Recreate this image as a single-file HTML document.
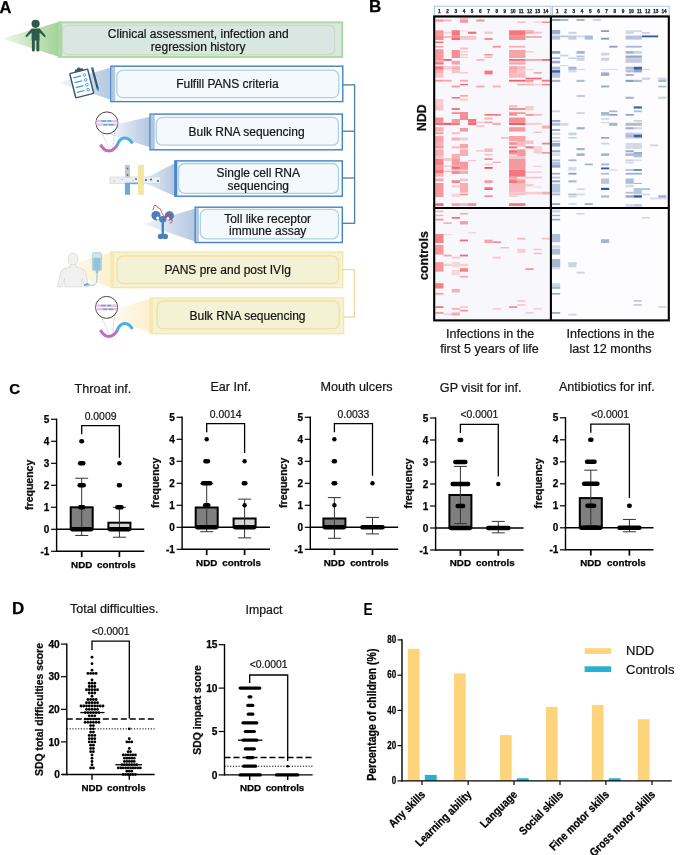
<!DOCTYPE html>
<html><head><meta charset="utf-8"><style>
html,body{margin:0;padding:0;background:#fff;}
svg{display:block;will-change:transform;}
text{font-family:"Liberation Sans",sans-serif;}
text.r{stroke:#222;stroke-width:0.22px;}
text.b{stroke:#000;stroke-width:0.25px;}
</style></head><body>
<svg width="685" height="855" viewBox="0 0 685 855" font-family="Liberation Sans, sans-serif">
<rect width="685" height="855" fill="#fff"/>
<text x="-0.40" y="13.10" font-size="16.5" text-anchor="start" font-weight="bold" class="b" fill="#000" >A</text><defs>
<linearGradient id="gG" x1="0" x2="1" y1="0" y2="0"><stop offset="0" stop-color="#eef7e8"/><stop offset="1" stop-color="#a3d397"/></linearGradient>
<linearGradient id="gB" x1="0" x2="1" y1="0" y2="0"><stop offset="0" stop-color="#f3f6fb"/><stop offset="1" stop-color="#b3c7e1"/></linearGradient>
<linearGradient id="gY" x1="0" x2="1" y1="0" y2="0"><stop offset="0" stop-color="#fffbf2"/><stop offset="1" stop-color="#fdf0cf"/></linearGradient>
</defs><polygon points="2.3,38.4 58.6,22 58.6,56.8" fill="url(#gG)"/><polygon points="59.4,82.8 111,67.4 111,99.8" fill="url(#gB)"/><polygon points="117.5,124 150,116.8 150,147.3 110,134.5" fill="url(#gB)"/><polygon points="140,181 174.8,163.3 174.8,196.1" fill="url(#gB)"/><polygon points="143,223.7 195.6,208.5 195.6,241.7" fill="url(#gB)"/><polygon points="57.1,269.2 111.3,252.1 111.3,287.7" fill="url(#gY)"/><polygon points="117.2,308.5 150.4,298.4 150.4,332.6 110,319" fill="url(#gY)"/><rect x="58.90" y="22.30" width="283.40" height="34.70" rx="0" fill="#d8e7e1" stroke="#a9d79f" stroke-width="1.8" /><rect x="59.60" y="23.10" width="2.60" height="33.20" rx="0" fill="#a9d79f" stroke="none" stroke-width="1" /><rect x="62.50" y="25.30" width="272.20" height="29.30" rx="6" fill="#d8e7e1" stroke="#c3ddc0" stroke-width="1" /><text x="198.20" y="38.10" font-size="12" text-anchor="middle" class="r" fill="#111" >Clinical assessment, infection and</text><text x="198.20" y="50.70" font-size="12" text-anchor="middle" class="r" fill="#111" >regression history</text><rect x="110.90" y="66.20" width="231.90" height="35.40" rx="0" fill="#ffffff" stroke="#3f82c6" stroke-width="1.4" /><rect x="111.60" y="66.90" width="3.60" height="34.00" rx="0" fill="#b2c6e0" stroke="none" stroke-width="1" /><rect x="116.80" y="70.20" width="222.00" height="27.40" rx="6" fill="#f4f9fd" stroke="#abd2da" stroke-width="1.3" /><text x="227.40" y="88.40" font-size="12" text-anchor="middle" class="r" fill="#111" >Fulfill PANS criteria</text><rect x="150.10" y="114.10" width="192.20" height="35.70" rx="0" fill="#ffffff" stroke="#3f82c6" stroke-width="1.4" /><rect x="150.80" y="114.80" width="4.00" height="34.30" rx="0" fill="#b2c6e0" stroke="none" stroke-width="1" /><rect x="156.30" y="117.40" width="182.20" height="27.80" rx="6" fill="#f4f9fd" stroke="#abd2da" stroke-width="1.3" /><text x="246.60" y="136.00" font-size="12" text-anchor="middle" class="r" fill="#111" >Bulk RNA sequencing</text><rect x="174.90" y="160.90" width="167.40" height="35.30" rx="0" fill="#ffffff" stroke="#3f82c6" stroke-width="1.4" /><rect x="174.70" y="160.90" width="2.60" height="35.30" rx="0" fill="#4a86c8" stroke="none" stroke-width="1" /><rect x="177.30" y="161.60" width="1.20" height="33.90" rx="0" fill="#c9d8ec" stroke="none" stroke-width="1" /><rect x="178.60" y="163.50" width="159.90" height="29.80" rx="6" fill="#f4f9fd" stroke="#abd2da" stroke-width="1.3" /><text x="258.30" y="176.50" font-size="12" text-anchor="middle" class="r" fill="#111" >Single cell RNA</text><text x="258.30" y="189.70" font-size="12" text-anchor="middle" class="r" fill="#111" >sequencing</text><rect x="195.20" y="207.20" width="147.10" height="35.30" rx="0" fill="#ffffff" stroke="#3f82c6" stroke-width="1.4" /><rect x="195.90" y="207.90" width="3.00" height="33.90" rx="0" fill="#b2c6e0" stroke="none" stroke-width="1" /><rect x="200.30" y="209.40" width="138.20" height="29.40" rx="6" fill="#f4f9fd" stroke="#abd2da" stroke-width="1.3" /><text x="267.70" y="222.50" font-size="12" text-anchor="middle" class="r" fill="#111" >Toll like receptor</text><text x="267.70" y="235.10" font-size="12" text-anchor="middle" class="r" fill="#111" >immune assay</text><line x1="342.60" y1="84.90" x2="354.60" y2="84.90" stroke="#4d8097" stroke-width="1.3" /><line x1="342.60" y1="131.20" x2="354.60" y2="131.20" stroke="#4d8097" stroke-width="1.3" /><line x1="342.60" y1="178.00" x2="354.60" y2="178.00" stroke="#4d8097" stroke-width="1.3" /><line x1="342.60" y1="223.30" x2="354.60" y2="223.30" stroke="#4d8097" stroke-width="1.3" /><line x1="354.60" y1="84.30" x2="354.60" y2="223.90" stroke="#4d8097" stroke-width="1.3" /><rect x="111.20" y="252.00" width="231.50" height="35.60" rx="0" fill="#f5f3d7" stroke="#f5e6ab" stroke-width="1.4" /><rect x="111.90" y="252.70" width="2.20" height="34.20" rx="0" fill="#f7e8b2" stroke="none" stroke-width="1" /><rect x="117.10" y="256.10" width="221.50" height="27.50" rx="6" fill="#f4f2d6" stroke="#f2e1a3" stroke-width="1.5" /><text x="227.80" y="274.00" font-size="12" text-anchor="middle" class="r" fill="#111" >PANS pre and post IVIg</text><rect x="150.20" y="298.00" width="193.40" height="35.70" rx="0" fill="#f5f3d7" stroke="#f5e6ab" stroke-width="1.4" /><rect x="150.90" y="298.70" width="2.20" height="34.30" rx="0" fill="#f7e8b2" stroke="none" stroke-width="1" /><rect x="157.00" y="301.10" width="182.20" height="27.70" rx="6" fill="#f4f2d6" stroke="#f2e1a3" stroke-width="1.5" /><text x="247.50" y="320.10" font-size="12" text-anchor="middle" class="r" fill="#111" >Bulk RNA sequencing</text><line x1="342.70" y1="269.60" x2="354.40" y2="269.60" stroke="#e9d9a6" stroke-width="1.3" /><line x1="343.60" y1="317.00" x2="354.40" y2="317.00" stroke="#e9d9a6" stroke-width="1.3" /><line x1="354.40" y1="269.00" x2="354.40" y2="317.60" stroke="#e9d9a6" stroke-width="1.3" /><g fill="#2e5a4b"><circle cx="35.6" cy="23.8" r="4.1"/><path d="M31.6,28.6 L39.6,28.6 L45.9,36.0 L44.6,37.2 L39.6,32.5 L39.6,40.5 L31.6,40.5 L31.6,32.5 L26.6,37.2 L25.3,36.0 Z"/><rect x="31.9" y="39.5" width="2.9" height="12" rx="1.3"/><rect x="36.4" y="39.5" width="2.9" height="12" rx="1.3"/></g><g transform="rotate(-14 81.7 83.6)"><rect x="72.5" y="71" width="18.5" height="25" rx="1" fill="#fff" stroke="#3b5573" stroke-width="1.5"/><path d="M77.5,71.2 L78.5,68.6 L80.5,68.6 L81.5,67.2 L83,67.2 L84,68.6 L86,68.6 L87,71.2 Z" fill="#3b5573"/><g stroke="#3a9ad6" stroke-width="1.2"><line x1="75" y1="76" x2="83" y2="76"/><line x1="75" y1="81" x2="83" y2="81"/><line x1="75" y1="86" x2="83" y2="86"/><line x1="75" y1="91" x2="83" y2="91"/></g><g fill="none" stroke="#3a9ad6" stroke-width="0.9"><circle cx="86.5" cy="76" r="1.3"/><circle cx="86.5" cy="81" r="1.3"/><circle cx="86.5" cy="86" r="1.3"/><circle cx="86.5" cy="91" r="1.3"/></g></g><line x1="92.4" y1="68.6" x2="97.8" y2="89" stroke="#3b5573" stroke-width="2.2" stroke-linecap="round"/><path d="M96.6,88.5 L99.2,88 L98.6,91.8 Z" fill="#3a9ad6"/><circle cx="92.3" cy="68.2" r="1.2" fill="#3a9ad6"/><g><circle cx="106.9" cy="122.9" r="11" fill="#fff" stroke="#444" stroke-width="1"/><rect x="96.4" y="120.0" width="21" height="5.8" fill="#e9c0e4"/><line x1="96.4" y1="122.9" x2="117.4" y2="122.9" stroke="#fff" stroke-width="1.1"/><g stroke-width="1.5" stroke="#4ab0e0"><line x1="101.4" y1="121.0" x2="106.10000000000001" y2="121.0"/><line x1="107.5" y1="121.0" x2="111.5" y2="121.0"/><line x1="103.4" y1="124.80000000000001" x2="107.5" y2="124.80000000000001"/><line x1="108.9" y1="124.80000000000001" x2="113.5" y2="124.80000000000001"/></g><g stroke="#999" stroke-width="0.6" stroke-dasharray="1,1"><line x1="101.9" y1="132.9" x2="110.5" y2="151.5"/><line x1="114.9" y1="130.9" x2="112.5" y2="149.5"/></g><path d="M100.5,144.5 C104.5,152.5 112.5,153.5 117.5,144.5" fill="none" stroke="#c06fc0" stroke-width="3" stroke-linecap="butt"/><path d="M117.0,145.3 C120.5,136.5 127.5,135.5 132.5,143.5" fill="none" stroke="#45b2e0" stroke-width="3"/></g><g><circle cx="106.6" cy="307.4" r="11" fill="#fff" stroke="#444" stroke-width="1"/><rect x="96.1" y="304.5" width="21" height="5.8" fill="#e9c0e4"/><line x1="96.1" y1="307.4" x2="117.1" y2="307.4" stroke="#fff" stroke-width="1.1"/><g stroke-width="1.5" stroke="#4ab0e0"><line x1="101.1" y1="305.5" x2="105.8" y2="305.5"/><line x1="107.19999999999999" y1="305.5" x2="111.19999999999999" y2="305.5"/><line x1="103.1" y1="309.29999999999995" x2="107.19999999999999" y2="309.29999999999995"/><line x1="108.6" y1="309.29999999999995" x2="113.19999999999999" y2="309.29999999999995"/></g><g stroke="#999" stroke-width="0.6" stroke-dasharray="1,1"><line x1="101.6" y1="317.4" x2="110.5" y2="337.0"/><line x1="114.6" y1="315.4" x2="112.5" y2="335.0"/></g><path d="M100.5,330.0 C104.5,338.0 112.5,339.0 117.5,330.0" fill="none" stroke="#c06fc0" stroke-width="3" stroke-linecap="butt"/><path d="M117.0,330.8 C120.5,322.0 127.5,321.0 132.5,329.0" fill="none" stroke="#45b2e0" stroke-width="3"/></g><g><rect x="109.9" y="177" width="50.4" height="6.5" fill="#eceef2" stroke="#cfd2d8" stroke-width="0.6"/><rect x="124.9" y="164.9" width="5.1" height="12.5" fill="#c7c9cc"/><rect x="124.9" y="183" width="5.1" height="11.8" fill="#6aa8e0"/><rect x="125" y="182.6" width="18" height="1.6" fill="#6aa8e0"/><rect x="138" y="164.9" width="5.9" height="29.9" fill="#f1e6a2"/><g fill="#3c6cb8"><circle cx="127.5" cy="168.5" r="0.9"/><circle cx="127.5" cy="175" r="0.9"/><circle cx="136" cy="179" r="0.9"/><circle cx="146" cy="180" r="1.1"/><circle cx="151" cy="179.5" r="1.1"/><circle cx="158" cy="181" r="1.1"/></g><g fill="#5cc060"><circle cx="114" cy="181" r="0.6"/><circle cx="122" cy="179.5" r="0.6"/><circle cx="133" cy="180.5" r="0.6"/></g></g><g fill="#4a7fc0"><path fill-rule="evenodd" d="M156,211 A4.6,4.8 0 1 0 159.6,219.6 L158.6,217.2 A1.7,1.7 0 1 1 156.4,217 Z"/><path fill-rule="evenodd" d="M169.4,211 A4.6,4.8 0 1 1 165.8,219.6 L166.8,217.2 A1.7,1.7 0 1 0 169,217 Z"/><circle cx="156" cy="215.6" r="4.6"/><circle cx="169.4" cy="215.8" r="4.6"/><ellipse cx="162.7" cy="219.3" rx="3.6" ry="3.2"/><rect x="161.6" y="221" width="2.4" height="14"/><ellipse cx="160.6" cy="236.4" rx="2.8" ry="2.6"/><ellipse cx="165.2" cy="236.4" rx="2.8" ry="2.6"/></g><g fill="#fff"><circle cx="157.6" cy="218.1" r="1.5"/><circle cx="167.9" cy="218.6" r="1.5"/></g><path d="M153,210 L154.4,205.2 L156.3,205.7 L158.2,208 L160.6,209 L161.6,212.3 L163.5,215.7 L166.3,217.6 L167.7,214.7 L169.6,214.2 L170.6,216.6 L171,219.9 L172.5,220.4 L171.5,222.8 L169.6,223.2" fill="none" stroke="#d8383a" stroke-width="0.8"/><g fill="#f1f1f1" stroke="#cdcdcd" stroke-width="0.6"><path d="M70.6,263.5 L75.6,263.5 L76.2,267.3 Q84,268.3 85.6,272 L88.6,286.8 L84.2,286.8 L82.2,278.5 L81.6,286.8 L65,286.8 L64.4,278.5 L62,286.8 L57.4,286.8 L60.8,272 Q62.4,268.3 70,267.3 Z"/><ellipse cx="73.1" cy="258.9" rx="4.9" ry="6"/></g><rect x="92.3" y="252.7" width="9.3" height="17.9" rx="1.6" fill="#cfe6ee" stroke="#9cc6d6" stroke-width="0.7"/><rect x="93.2" y="257.8" width="7.5" height="12.2" rx="1" fill="#94c2d6"/><rect x="95.8" y="270.4" width="2.4" height="3" fill="#94c2d6"/><path d="M97,273.4 L97,278 C97,284.5 94,286.2 90,285 L87,284.6" fill="none" stroke="#7fbbd4" stroke-width="0.9"/><rect x="84" y="283.6" width="4.6" height="2" fill="#5fa8d0" transform="rotate(-15 86 284.6)"/><text x="368.90" y="12.30" font-size="17" text-anchor="start" font-weight="bold" class="b" fill="#000" >B</text><rect x="435.3" y="17.4" width="114.69999999999999" height="302.0" fill="#f8f7fc"/><rect x="552.0" y="17.4" width="114.39999999999998" height="302.0" fill="#fdfdff"/><rect x="601.03" y="68.80" width="16.34" height="1.40" fill="#dee2ef"/><rect x="633.71" y="159.40" width="8.17" height="1.80" fill="#dee2ef"/><rect x="459.88" y="30.30" width="8.19" height="1.40" fill="#f8dfe3"/><rect x="625.54" y="30.20" width="16.34" height="1.80" fill="#d4daea"/><rect x="576.51" y="35.50" width="8.17" height="1.80" fill="#d4daea"/><rect x="560.17" y="65.00" width="8.17" height="1.20" fill="#d4daea"/><rect x="568.34" y="69.70" width="8.17" height="2.70" fill="#d4daea"/><rect x="576.51" y="68.80" width="8.17" height="1.40" fill="#d4daea"/><rect x="641.89" y="68.80" width="8.17" height="1.40" fill="#d4daea"/><rect x="601.03" y="118.00" width="8.17" height="1.80" fill="#d4daea"/><rect x="601.03" y="121.90" width="8.17" height="1.40" fill="#d4daea"/><rect x="560.17" y="122.80" width="8.17" height="3.00" fill="#d4daea"/><rect x="552.00" y="132.50" width="8.17" height="2.70" fill="#d4daea"/><rect x="633.71" y="132.50" width="8.17" height="2.70" fill="#d4daea"/><rect x="625.54" y="137.00" width="16.34" height="1.70" fill="#d4daea"/><rect x="625.54" y="143.00" width="16.34" height="6.00" fill="#d4daea"/><rect x="552.00" y="153.30" width="8.17" height="2.70" fill="#d4daea"/><rect x="568.34" y="167.00" width="8.17" height="3.50" fill="#d4daea"/><rect x="609.20" y="169.30" width="8.17" height="1.30" fill="#d4daea"/><rect x="625.54" y="161.70" width="8.17" height="1.80" fill="#d4daea"/><rect x="576.51" y="188.20" width="8.17" height="1.80" fill="#d4daea"/><rect x="625.54" y="184.70" width="8.17" height="2.60" fill="#d4daea"/><rect x="576.51" y="193.50" width="8.17" height="1.80" fill="#d4daea"/><rect x="641.89" y="193.50" width="8.17" height="1.80" fill="#d4daea"/><rect x="568.34" y="195.30" width="8.17" height="2.30" fill="#d4daea"/><rect x="650.06" y="197.60" width="8.17" height="1.80" fill="#d4daea"/><rect x="658.23" y="197.60" width="8.17" height="1.80" fill="#d4daea"/><rect x="568.34" y="203.20" width="8.17" height="1.80" fill="#d4daea"/><rect x="625.54" y="204.00" width="8.17" height="2.80" fill="#d4daea"/><rect x="552.00" y="209.50" width="8.17" height="3.20" fill="#d4daea"/><rect x="552.00" y="245.20" width="8.17" height="3.20" fill="#d4daea"/><rect x="552.00" y="267.30" width="8.17" height="2.10" fill="#d4daea"/><rect x="533.61" y="21.50" width="8.19" height="1.50" fill="#f8d7db"/><rect x="443.49" y="31.70" width="8.19" height="2.10" fill="#f8d7db"/><rect x="459.88" y="56.50" width="8.19" height="1.50" fill="#f8d7db"/><rect x="525.42" y="68.80" width="8.19" height="1.40" fill="#f8d7db"/><rect x="533.61" y="186.50" width="8.19" height="1.00" fill="#f8d7db"/><rect x="451.69" y="193.50" width="8.19" height="3.50" fill="#f8d7db"/><rect x="443.49" y="234.00" width="8.19" height="1.30" fill="#f8d7db"/><rect x="451.69" y="262.00" width="8.19" height="5.30" fill="#f8d7db"/><rect x="451.69" y="270.00" width="8.19" height="5.30" fill="#f8d7db"/><rect x="443.49" y="313.20" width="8.19" height="2.20" fill="#f8d7db"/><rect x="592.86" y="19.00" width="8.17" height="2.00" fill="#cbd3e6"/><rect x="568.34" y="31.80" width="8.17" height="2.00" fill="#cbd3e6"/><rect x="625.54" y="32.00" width="8.17" height="1.80" fill="#cbd3e6"/><rect x="641.89" y="32.00" width="8.17" height="1.80" fill="#cbd3e6"/><rect x="633.71" y="51.00" width="8.17" height="2.80" fill="#cbd3e6"/><rect x="560.17" y="54.60" width="8.17" height="1.80" fill="#cbd3e6"/><rect x="601.03" y="52.80" width="8.17" height="2.70" fill="#cbd3e6"/><rect x="568.34" y="57.30" width="8.17" height="1.70" fill="#cbd3e6"/><rect x="576.51" y="57.80" width="8.17" height="3.00" fill="#cbd3e6"/><rect x="601.03" y="57.80" width="8.17" height="3.00" fill="#cbd3e6"/><rect x="625.54" y="60.90" width="8.17" height="1.70" fill="#cbd3e6"/><rect x="633.71" y="60.90" width="8.17" height="1.70" fill="#cbd3e6"/><rect x="641.89" y="77.70" width="8.17" height="2.10" fill="#cbd3e6"/><rect x="658.23" y="77.70" width="8.17" height="2.10" fill="#cbd3e6"/><rect x="658.23" y="96.70" width="8.17" height="2.20" fill="#cbd3e6"/><rect x="552.00" y="110.40" width="8.17" height="1.80" fill="#cbd3e6"/><rect x="576.51" y="112.20" width="8.17" height="1.80" fill="#cbd3e6"/><rect x="633.71" y="120.00" width="8.17" height="1.90" fill="#cbd3e6"/><rect x="633.71" y="127.20" width="8.17" height="2.10" fill="#cbd3e6"/><rect x="568.34" y="132.50" width="8.17" height="2.70" fill="#cbd3e6"/><rect x="568.34" y="137.00" width="8.17" height="1.70" fill="#cbd3e6"/><rect x="601.03" y="142.80" width="8.17" height="1.70" fill="#cbd3e6"/><rect x="650.06" y="144.50" width="8.17" height="1.70" fill="#cbd3e6"/><rect x="625.54" y="159.40" width="8.17" height="1.80" fill="#cbd3e6"/><rect x="576.51" y="213.00" width="8.17" height="1.50" fill="#cbd3e6"/><rect x="641.89" y="217.00" width="8.17" height="1.40" fill="#cbd3e6"/><rect x="568.34" y="262.20" width="8.17" height="1.80" fill="#cbd3e6"/><rect x="568.34" y="263.00" width="8.17" height="4.30" fill="#cbd3e6"/><rect x="576.51" y="271.70" width="8.17" height="1.80" fill="#cbd3e6"/><rect x="552.00" y="283.20" width="8.17" height="3.50" fill="#cbd3e6"/><rect x="568.34" y="313.80" width="8.17" height="1.60" fill="#cbd3e6"/><rect x="459.88" y="38.00" width="16.39" height="2.00" fill="#f7cdd2"/><rect x="459.88" y="51.00" width="8.19" height="1.50" fill="#f7cdd2"/><rect x="525.42" y="51.00" width="8.19" height="1.50" fill="#f7cdd2"/><rect x="459.88" y="54.00" width="8.19" height="1.50" fill="#f7cdd2"/><rect x="443.49" y="66.20" width="8.19" height="3.50" fill="#f7cdd2"/><rect x="459.88" y="72.00" width="8.19" height="1.60" fill="#f7cdd2"/><rect x="484.46" y="74.10" width="8.19" height="1.40" fill="#f7cdd2"/><rect x="525.42" y="81.60" width="8.19" height="1.40" fill="#f7cdd2"/><rect x="533.61" y="83.90" width="8.19" height="1.40" fill="#f7cdd2"/><rect x="459.88" y="98.50" width="8.19" height="2.10" fill="#f7cdd2"/><rect x="435.30" y="98.90" width="8.19" height="7.10" fill="#f7cdd2"/><rect x="525.42" y="106.00" width="8.19" height="4.40" fill="#f7cdd2"/><rect x="476.26" y="121.50" width="8.19" height="1.80" fill="#f7cdd2"/><rect x="525.42" y="122.80" width="8.19" height="2.20" fill="#f7cdd2"/><rect x="533.61" y="122.80" width="8.19" height="2.20" fill="#f7cdd2"/><rect x="476.26" y="125.00" width="8.19" height="2.20" fill="#f7cdd2"/><rect x="459.88" y="137.50" width="8.19" height="3.00" fill="#f7cdd2"/><rect x="533.61" y="146.30" width="8.19" height="2.10" fill="#f7cdd2"/><rect x="533.61" y="148.40" width="8.19" height="4.40" fill="#f7cdd2"/><rect x="533.61" y="152.00" width="8.19" height="1.40" fill="#f7cdd2"/><rect x="484.46" y="163.50" width="8.19" height="1.80" fill="#f7cdd2"/><rect x="443.49" y="165.30" width="8.19" height="1.70" fill="#f7cdd2"/><rect x="533.61" y="165.80" width="8.19" height="1.20" fill="#f7cdd2"/><rect x="525.42" y="171.40" width="16.39" height="1.40" fill="#f7cdd2"/><rect x="525.42" y="183.80" width="8.19" height="2.70" fill="#f7cdd2"/><rect x="525.42" y="191.80" width="16.39" height="2.60" fill="#f7cdd2"/><rect x="509.04" y="195.30" width="8.19" height="1.70" fill="#f7cdd2"/><rect x="468.07" y="232.10" width="8.19" height="1.30" fill="#f7cdd2"/><rect x="517.23" y="248.80" width="8.19" height="4.00" fill="#f7cdd2"/><rect x="443.49" y="263.80" width="8.19" height="2.10" fill="#f7cdd2"/><rect x="459.88" y="263.80" width="8.19" height="2.10" fill="#f7cdd2"/><rect x="517.23" y="300.00" width="8.19" height="1.80" fill="#f7cdd2"/><rect x="517.23" y="304.00" width="8.19" height="1.80" fill="#f7cdd2"/><rect x="459.88" y="306.20" width="8.19" height="1.80" fill="#f7cdd2"/><rect x="492.65" y="308.00" width="8.19" height="1.70" fill="#f7cdd2"/><rect x="533.61" y="308.00" width="8.19" height="1.70" fill="#f7cdd2"/><rect x="451.69" y="312.00" width="8.19" height="1.80" fill="#f7cdd2"/><rect x="525.42" y="312.00" width="8.19" height="1.80" fill="#f7cdd2"/><rect x="568.34" y="35.50" width="8.17" height="4.10" fill="#c2cbe1"/><rect x="625.54" y="58.20" width="16.34" height="4.40" fill="#c2cbe1"/><rect x="576.51" y="95.00" width="8.17" height="2.10" fill="#c2cbe1"/><rect x="625.54" y="132.50" width="8.17" height="2.70" fill="#c2cbe1"/><rect x="552.00" y="137.00" width="8.17" height="1.70" fill="#c2cbe1"/><rect x="633.71" y="204.00" width="8.17" height="2.80" fill="#c2cbe1"/><rect x="633.71" y="300.00" width="8.17" height="1.80" fill="#c2cbe1"/><rect x="633.71" y="304.00" width="8.17" height="1.80" fill="#c2cbe1"/><rect x="658.23" y="306.20" width="8.17" height="1.40" fill="#c2cbe1"/><rect x="484.46" y="31.70" width="8.19" height="2.10" fill="#f7c4c9"/><rect x="533.61" y="31.70" width="8.19" height="2.10" fill="#f7c4c9"/><rect x="459.88" y="36.00" width="16.39" height="2.00" fill="#f7c4c9"/><rect x="509.04" y="60.80" width="16.39" height="3.60" fill="#f7c4c9"/><rect x="451.69" y="69.70" width="8.19" height="3.50" fill="#f7c4c9"/><rect x="517.23" y="69.70" width="8.19" height="3.50" fill="#f7c4c9"/><rect x="435.30" y="73.20" width="8.19" height="4.50" fill="#f7c4c9"/><rect x="509.04" y="105.00" width="8.19" height="1.30" fill="#f7c4c9"/><rect x="435.30" y="106.00" width="8.19" height="4.40" fill="#f7c4c9"/><rect x="451.69" y="132.10" width="8.19" height="2.20" fill="#f7c4c9"/><rect x="500.84" y="137.00" width="8.19" height="1.80" fill="#f7c4c9"/><rect x="525.42" y="140.50" width="8.19" height="3.50" fill="#f7c4c9"/><rect x="476.26" y="150.20" width="8.19" height="1.40" fill="#f7c4c9"/><rect x="435.30" y="152.00" width="8.19" height="7.00" fill="#f7c4c9"/><rect x="484.46" y="153.80" width="8.19" height="1.70" fill="#f7c4c9"/><rect x="443.49" y="158.00" width="8.19" height="2.80" fill="#f7c4c9"/><rect x="509.04" y="155.50" width="16.39" height="3.50" fill="#f7c4c9"/><rect x="468.07" y="160.00" width="8.19" height="1.20" fill="#f7c4c9"/><rect x="443.49" y="170.50" width="8.19" height="1.80" fill="#f7c4c9"/><rect x="525.42" y="176.70" width="16.39" height="1.80" fill="#f7c4c9"/><rect x="459.88" y="178.50" width="8.19" height="2.70" fill="#f7c4c9"/><rect x="451.69" y="185.50" width="8.19" height="1.80" fill="#f7c4c9"/><rect x="509.04" y="192.60" width="16.39" height="2.70" fill="#f7c4c9"/><rect x="541.81" y="237.80" width="8.19" height="1.80" fill="#f7c4c9"/><rect x="533.61" y="248.80" width="8.19" height="1.40" fill="#f7c4c9"/><rect x="451.69" y="256.70" width="8.19" height="1.80" fill="#f7c4c9"/><rect x="492.65" y="256.70" width="8.19" height="1.80" fill="#f7c4c9"/><rect x="552.00" y="35.50" width="8.17" height="4.10" fill="#b8c4dd"/><rect x="625.54" y="35.50" width="16.34" height="4.10" fill="#b8c4dd"/><rect x="560.17" y="35.50" width="8.17" height="1.80" fill="#b8c4dd"/><rect x="576.51" y="55.50" width="8.17" height="1.80" fill="#b8c4dd"/><rect x="552.00" y="72.70" width="8.17" height="5.00" fill="#b8c4dd"/><rect x="552.00" y="140.50" width="8.17" height="1.70" fill="#b8c4dd"/><rect x="633.71" y="153.30" width="8.17" height="2.70" fill="#b8c4dd"/><rect x="552.00" y="161.70" width="8.17" height="6.30" fill="#b8c4dd"/><rect x="552.00" y="176.70" width="8.17" height="1.80" fill="#b8c4dd"/><rect x="601.03" y="178.50" width="8.17" height="5.30" fill="#b8c4dd"/><rect x="552.00" y="183.80" width="8.17" height="8.80" fill="#b8c4dd"/><rect x="633.71" y="188.00" width="8.17" height="6.30" fill="#b8c4dd"/><rect x="568.34" y="193.50" width="8.17" height="1.80" fill="#b8c4dd"/><rect x="443.49" y="19.50" width="8.19" height="2.00" fill="#f6babf"/><rect x="459.88" y="17.80" width="8.19" height="2.20" fill="#f6babf"/><rect x="517.23" y="21.50" width="8.19" height="1.50" fill="#f6babf"/><rect x="443.49" y="36.00" width="8.19" height="2.00" fill="#f6babf"/><rect x="459.88" y="47.60" width="8.19" height="1.70" fill="#f6babf"/><rect x="484.46" y="56.50" width="8.19" height="1.50" fill="#f6babf"/><rect x="476.26" y="59.00" width="8.19" height="1.80" fill="#f6babf"/><rect x="517.23" y="66.20" width="8.19" height="3.50" fill="#f6babf"/><rect x="509.04" y="73.20" width="8.19" height="4.50" fill="#f6babf"/><rect x="517.23" y="73.20" width="8.19" height="4.50" fill="#f6babf"/><rect x="509.04" y="106.00" width="8.19" height="1.50" fill="#f6babf"/><rect x="533.61" y="114.00" width="8.19" height="1.70" fill="#f6babf"/><rect x="533.61" y="131.60" width="8.19" height="1.20" fill="#f6babf"/><rect x="517.23" y="140.50" width="8.19" height="6.10" fill="#f6babf"/><rect x="451.69" y="146.30" width="8.19" height="2.10" fill="#f6babf"/><rect x="484.46" y="148.40" width="8.19" height="3.60" fill="#f6babf"/><rect x="459.88" y="152.00" width="8.19" height="3.50" fill="#f6babf"/><rect x="517.23" y="178.50" width="8.19" height="2.70" fill="#f6babf"/><rect x="509.04" y="183.00" width="16.39" height="9.60" fill="#f6babf"/><rect x="459.88" y="203.20" width="8.19" height="2.70" fill="#f6babf"/><rect x="435.30" y="210.40" width="8.19" height="1.80" fill="#f6babf"/><rect x="517.23" y="237.80" width="8.19" height="1.80" fill="#f6babf"/><rect x="500.84" y="247.00" width="8.19" height="1.40" fill="#f6babf"/><rect x="533.61" y="252.80" width="8.19" height="1.40" fill="#f6babf"/><rect x="584.69" y="35.50" width="8.17" height="4.10" fill="#afbcd8"/><rect x="552.00" y="66.70" width="8.17" height="3.00" fill="#afbcd8"/><rect x="625.54" y="66.70" width="8.17" height="3.00" fill="#afbcd8"/><rect x="625.54" y="70.20" width="8.17" height="2.20" fill="#afbcd8"/><rect x="576.51" y="79.80" width="8.17" height="2.20" fill="#afbcd8"/><rect x="633.71" y="79.80" width="8.17" height="2.20" fill="#afbcd8"/><rect x="658.23" y="85.60" width="8.17" height="1.80" fill="#afbcd8"/><rect x="633.71" y="110.40" width="8.17" height="1.80" fill="#afbcd8"/><rect x="601.03" y="114.00" width="8.17" height="1.70" fill="#afbcd8"/><rect x="552.00" y="122.80" width="8.17" height="3.00" fill="#afbcd8"/><rect x="625.54" y="122.80" width="16.34" height="3.00" fill="#afbcd8"/><rect x="625.54" y="134.60" width="8.17" height="2.80" fill="#afbcd8"/><rect x="625.54" y="153.30" width="8.17" height="2.70" fill="#afbcd8"/><rect x="633.71" y="152.00" width="8.17" height="5.30" fill="#afbcd8"/><rect x="625.54" y="153.80" width="8.17" height="1.70" fill="#afbcd8"/><rect x="552.00" y="159.40" width="8.17" height="1.80" fill="#afbcd8"/><rect x="601.03" y="172.80" width="8.17" height="1.80" fill="#afbcd8"/><rect x="625.54" y="178.50" width="8.17" height="5.30" fill="#afbcd8"/><rect x="641.89" y="188.20" width="8.17" height="1.80" fill="#afbcd8"/><rect x="625.54" y="191.80" width="8.17" height="1.70" fill="#afbcd8"/><rect x="601.03" y="195.30" width="8.17" height="2.30" fill="#afbcd8"/><rect x="552.00" y="234.00" width="8.17" height="8.20" fill="#afbcd8"/><rect x="552.00" y="248.80" width="8.17" height="5.80" fill="#afbcd8"/><rect x="525.42" y="36.00" width="16.39" height="2.00" fill="#f6b0b4"/><rect x="509.04" y="45.80" width="16.39" height="1.80" fill="#f6b0b4"/><rect x="451.69" y="62.60" width="8.19" height="1.80" fill="#f6b0b4"/><rect x="451.69" y="66.20" width="8.19" height="3.50" fill="#f6b0b4"/><rect x="435.30" y="69.70" width="8.19" height="3.50" fill="#f6b0b4"/><rect x="509.04" y="69.70" width="8.19" height="3.50" fill="#f6b0b4"/><rect x="525.42" y="83.90" width="8.19" height="1.40" fill="#f6b0b4"/><rect x="492.65" y="85.60" width="8.19" height="1.80" fill="#f6b0b4"/><rect x="484.46" y="117.50" width="8.19" height="2.00" fill="#f6b0b4"/><rect x="492.65" y="122.80" width="8.19" height="2.20" fill="#f6b0b4"/><rect x="541.81" y="125.50" width="8.19" height="3.10" fill="#f6b0b4"/><rect x="435.30" y="127.20" width="8.19" height="4.40" fill="#f6b0b4"/><rect x="451.69" y="137.50" width="8.19" height="3.00" fill="#f6b0b4"/><rect x="435.30" y="140.50" width="8.19" height="6.10" fill="#f6b0b4"/><rect x="435.30" y="149.30" width="8.19" height="6.70" fill="#f6b0b4"/><rect x="459.88" y="149.30" width="8.19" height="6.70" fill="#f6b0b4"/><rect x="451.69" y="153.80" width="8.19" height="5.20" fill="#f6b0b4"/><rect x="492.65" y="161.70" width="8.19" height="1.30" fill="#f6b0b4"/><rect x="435.30" y="173.20" width="8.19" height="3.50" fill="#f6b0b4"/><rect x="459.88" y="170.50" width="8.19" height="3.50" fill="#f6b0b4"/><rect x="459.88" y="183.00" width="8.19" height="9.60" fill="#f6b0b4"/><rect x="541.81" y="191.80" width="8.19" height="2.60" fill="#f6b0b4"/><rect x="435.30" y="214.80" width="8.19" height="1.40" fill="#f6b0b4"/><rect x="443.49" y="222.30" width="8.19" height="1.70" fill="#f6b0b4"/><rect x="451.69" y="288.90" width="8.19" height="3.50" fill="#f6b0b4"/><rect x="451.69" y="308.00" width="8.19" height="1.70" fill="#f6b0b4"/><rect x="560.17" y="19.00" width="8.17" height="2.00" fill="#a6b5d4"/><rect x="576.51" y="19.00" width="8.17" height="2.00" fill="#a6b5d4"/><rect x="625.54" y="45.80" width="16.34" height="1.80" fill="#a6b5d4"/><rect x="576.51" y="51.00" width="8.17" height="2.80" fill="#a6b5d4"/><rect x="625.54" y="51.00" width="8.17" height="2.80" fill="#a6b5d4"/><rect x="568.34" y="66.70" width="8.17" height="3.00" fill="#a6b5d4"/><rect x="625.54" y="74.00" width="8.17" height="2.00" fill="#a6b5d4"/><rect x="552.00" y="79.80" width="8.17" height="2.20" fill="#a6b5d4"/><rect x="658.23" y="79.80" width="8.17" height="2.20" fill="#a6b5d4"/><rect x="625.54" y="96.70" width="8.17" height="2.20" fill="#a6b5d4"/><rect x="609.20" y="110.40" width="8.17" height="1.80" fill="#a6b5d4"/><rect x="609.20" y="122.80" width="8.17" height="3.00" fill="#a6b5d4"/><rect x="576.51" y="148.00" width="8.17" height="2.20" fill="#a6b5d4"/><rect x="576.51" y="153.30" width="8.17" height="2.70" fill="#a6b5d4"/><rect x="601.03" y="153.30" width="8.17" height="2.70" fill="#a6b5d4"/><rect x="568.34" y="159.40" width="8.17" height="1.80" fill="#a6b5d4"/><rect x="584.69" y="163.50" width="8.17" height="1.80" fill="#a6b5d4"/><rect x="601.03" y="163.50" width="8.17" height="1.80" fill="#a6b5d4"/><rect x="568.34" y="180.30" width="8.17" height="2.10" fill="#a6b5d4"/><rect x="633.71" y="182.90" width="8.17" height="1.10" fill="#a6b5d4"/><rect x="552.00" y="193.50" width="8.17" height="1.80" fill="#a6b5d4"/><rect x="601.03" y="239.20" width="8.17" height="3.90" fill="#a6b5d4"/><rect x="552.00" y="259.00" width="8.17" height="5.00" fill="#a6b5d4"/><rect x="552.00" y="262.00" width="8.17" height="5.30" fill="#a6b5d4"/><rect x="552.00" y="286.70" width="8.17" height="2.20" fill="#a6b5d4"/><rect x="525.42" y="31.70" width="8.19" height="2.10" fill="#f5a5aa"/><rect x="525.42" y="30.30" width="8.19" height="1.40" fill="#f5a5aa"/><rect x="435.30" y="45.80" width="8.19" height="1.80" fill="#f5a5aa"/><rect x="509.04" y="50.00" width="16.39" height="8.00" fill="#f5a5aa"/><rect x="435.30" y="59.00" width="8.19" height="1.80" fill="#f5a5aa"/><rect x="525.42" y="59.00" width="16.39" height="1.80" fill="#f5a5aa"/><rect x="435.30" y="60.80" width="8.19" height="3.60" fill="#f5a5aa"/><rect x="451.69" y="60.80" width="8.19" height="3.60" fill="#f5a5aa"/><rect x="509.04" y="62.60" width="16.39" height="1.80" fill="#f5a5aa"/><rect x="509.04" y="66.20" width="8.19" height="3.50" fill="#f5a5aa"/><rect x="533.61" y="72.00" width="8.19" height="1.60" fill="#f5a5aa"/><rect x="443.49" y="79.80" width="8.19" height="1.80" fill="#f5a5aa"/><rect x="459.88" y="79.80" width="8.19" height="1.80" fill="#f5a5aa"/><rect x="517.23" y="83.90" width="8.19" height="1.40" fill="#f5a5aa"/><rect x="476.26" y="85.60" width="8.19" height="1.80" fill="#f5a5aa"/><rect x="459.88" y="95.00" width="8.19" height="1.70" fill="#f5a5aa"/><rect x="484.46" y="121.50" width="8.19" height="1.80" fill="#f5a5aa"/><rect x="435.30" y="132.10" width="8.19" height="2.20" fill="#f5a5aa"/><rect x="435.30" y="136.00" width="8.19" height="5.30" fill="#f5a5aa"/><rect x="509.04" y="136.00" width="16.39" height="5.30" fill="#f5a5aa"/><rect x="459.88" y="144.00" width="8.19" height="4.40" fill="#f5a5aa"/><rect x="541.81" y="152.00" width="8.19" height="1.40" fill="#f5a5aa"/><rect x="509.04" y="176.70" width="8.19" height="1.80" fill="#f5a5aa"/><rect x="435.30" y="178.50" width="8.19" height="2.70" fill="#f5a5aa"/><rect x="451.69" y="203.20" width="8.19" height="2.70" fill="#f5a5aa"/><rect x="459.88" y="213.00" width="8.19" height="1.50" fill="#f5a5aa"/><rect x="459.88" y="221.00" width="8.19" height="3.50" fill="#f5a5aa"/><rect x="484.46" y="239.60" width="8.19" height="3.50" fill="#f5a5aa"/><rect x="443.49" y="254.60" width="8.19" height="1.80" fill="#f5a5aa"/><rect x="459.88" y="275.80" width="8.19" height="1.70" fill="#f5a5aa"/><rect x="435.30" y="292.90" width="8.19" height="1.80" fill="#f5a5aa"/><rect x="451.69" y="313.20" width="8.19" height="2.20" fill="#f5a5aa"/><rect x="552.00" y="30.00" width="8.17" height="4.30" fill="#9cadcf"/><rect x="552.00" y="57.30" width="8.17" height="1.70" fill="#9cadcf"/><rect x="552.00" y="60.80" width="8.17" height="2.60" fill="#9cadcf"/><rect x="601.03" y="72.40" width="8.17" height="3.50" fill="#9cadcf"/><rect x="601.03" y="112.20" width="8.17" height="1.80" fill="#9cadcf"/><rect x="576.51" y="127.20" width="8.17" height="2.10" fill="#9cadcf"/><rect x="625.54" y="127.20" width="8.17" height="2.10" fill="#9cadcf"/><rect x="552.00" y="129.00" width="8.17" height="2.00" fill="#9cadcf"/><rect x="552.00" y="150.20" width="8.17" height="2.10" fill="#9cadcf"/><rect x="625.54" y="150.20" width="8.17" height="2.10" fill="#9cadcf"/><rect x="633.71" y="152.00" width="8.17" height="2.00" fill="#9cadcf"/><rect x="625.54" y="169.30" width="8.17" height="1.40" fill="#9cadcf"/><rect x="552.00" y="172.80" width="8.17" height="1.80" fill="#9cadcf"/><rect x="625.54" y="172.80" width="16.34" height="1.80" fill="#9cadcf"/><rect x="658.23" y="195.30" width="8.17" height="2.30" fill="#9cadcf"/><rect x="584.69" y="203.20" width="8.17" height="1.80" fill="#9cadcf"/><rect x="552.00" y="214.80" width="8.17" height="1.40" fill="#9cadcf"/><rect x="552.00" y="218.70" width="8.17" height="1.80" fill="#9cadcf"/><rect x="552.00" y="292.90" width="8.17" height="1.80" fill="#9cadcf"/><rect x="552.00" y="312.00" width="8.17" height="1.80" fill="#9cadcf"/><rect x="459.88" y="20.00" width="8.19" height="2.80" fill="#f49a9f"/><rect x="435.30" y="30.30" width="8.19" height="4.90" fill="#f49a9f"/><rect x="435.30" y="49.30" width="8.19" height="10.70" fill="#f49a9f"/><rect x="435.30" y="79.80" width="8.19" height="1.80" fill="#f49a9f"/><rect x="451.69" y="85.60" width="8.19" height="1.80" fill="#f49a9f"/><rect x="517.23" y="112.20" width="8.19" height="1.80" fill="#f49a9f"/><rect x="451.69" y="119.00" width="8.19" height="3.80" fill="#f49a9f"/><rect x="509.04" y="127.20" width="16.39" height="4.40" fill="#f49a9f"/><rect x="459.88" y="128.00" width="8.19" height="3.60" fill="#f49a9f"/><rect x="517.23" y="149.30" width="8.19" height="6.70" fill="#f49a9f"/><rect x="541.81" y="152.00" width="8.19" height="1.50" fill="#f49a9f"/><rect x="517.23" y="152.00" width="8.19" height="3.50" fill="#f49a9f"/><rect x="451.69" y="159.00" width="8.19" height="6.30" fill="#f49a9f"/><rect x="509.04" y="159.00" width="16.39" height="6.30" fill="#f49a9f"/><rect x="459.88" y="161.70" width="8.19" height="8.00" fill="#f49a9f"/><rect x="509.04" y="161.70" width="16.39" height="8.00" fill="#f49a9f"/><rect x="435.30" y="165.30" width="8.19" height="4.40" fill="#f49a9f"/><rect x="451.69" y="165.30" width="8.19" height="4.40" fill="#f49a9f"/><rect x="509.04" y="178.50" width="8.19" height="2.70" fill="#f49a9f"/><rect x="484.46" y="180.30" width="8.19" height="2.70" fill="#f49a9f"/><rect x="517.23" y="180.30" width="8.19" height="2.70" fill="#f49a9f"/><rect x="435.30" y="183.00" width="8.19" height="14.00" fill="#f49a9f"/><rect x="459.88" y="193.50" width="8.19" height="1.80" fill="#f49a9f"/><rect x="435.30" y="218.70" width="8.19" height="1.80" fill="#f49a9f"/><rect x="435.30" y="244.90" width="8.19" height="9.70" fill="#f49a9f"/><rect x="435.30" y="262.20" width="8.19" height="9.50" fill="#f49a9f"/><rect x="525.42" y="268.20" width="8.19" height="1.80" fill="#f49a9f"/><rect x="459.88" y="309.70" width="8.19" height="1.80" fill="#f49a9f"/><rect x="435.30" y="312.00" width="8.19" height="1.80" fill="#f49a9f"/><rect x="552.00" y="51.00" width="8.17" height="2.80" fill="#93a6cb"/><rect x="625.54" y="55.50" width="16.34" height="2.30" fill="#93a6cb"/><rect x="633.71" y="69.70" width="8.17" height="2.70" fill="#93a6cb"/><rect x="601.03" y="85.60" width="8.17" height="1.80" fill="#93a6cb"/><rect x="552.00" y="120.00" width="8.17" height="1.90" fill="#93a6cb"/><rect x="601.03" y="137.00" width="8.17" height="1.70" fill="#93a6cb"/><rect x="552.00" y="143.00" width="8.17" height="3.60" fill="#93a6cb"/><rect x="552.00" y="165.00" width="8.17" height="2.00" fill="#93a6cb"/><rect x="552.00" y="180.30" width="8.17" height="2.10" fill="#93a6cb"/><rect x="625.54" y="195.30" width="8.17" height="2.30" fill="#93a6cb"/><rect x="552.00" y="203.20" width="8.17" height="1.80" fill="#93a6cb"/><rect x="435.30" y="19.50" width="8.19" height="2.00" fill="#f48f94"/><rect x="476.26" y="19.50" width="8.19" height="2.00" fill="#f48f94"/><rect x="541.81" y="21.50" width="8.19" height="1.50" fill="#f48f94"/><rect x="435.30" y="35.20" width="8.19" height="4.80" fill="#f48f94"/><rect x="451.69" y="35.20" width="8.19" height="4.80" fill="#f48f94"/><rect x="509.04" y="35.20" width="16.39" height="4.80" fill="#f48f94"/><rect x="484.46" y="38.00" width="8.19" height="2.00" fill="#f48f94"/><rect x="492.65" y="45.80" width="8.19" height="1.80" fill="#f48f94"/><rect x="451.69" y="50.00" width="8.19" height="8.00" fill="#f48f94"/><rect x="484.46" y="54.00" width="8.19" height="1.50" fill="#f48f94"/><rect x="525.42" y="79.80" width="8.19" height="1.80" fill="#f48f94"/><rect x="509.04" y="108.00" width="16.39" height="2.00" fill="#f48f94"/><rect x="451.69" y="112.20" width="8.19" height="1.80" fill="#f48f94"/><rect x="509.04" y="112.20" width="8.19" height="1.80" fill="#f48f94"/><rect x="459.88" y="112.00" width="8.19" height="8.00" fill="#f48f94"/><rect x="509.04" y="114.00" width="8.19" height="1.70" fill="#f48f94"/><rect x="525.42" y="114.00" width="8.19" height="1.70" fill="#f48f94"/><rect x="435.30" y="117.50" width="8.19" height="5.30" fill="#f48f94"/><rect x="509.04" y="117.50" width="16.39" height="5.30" fill="#f48f94"/><rect x="509.04" y="142.20" width="8.19" height="2.70" fill="#f48f94"/><rect x="435.30" y="146.30" width="8.19" height="2.10" fill="#f48f94"/><rect x="509.04" y="152.00" width="8.19" height="2.60" fill="#f48f94"/><rect x="484.46" y="158.20" width="8.19" height="1.80" fill="#f48f94"/><rect x="451.69" y="170.50" width="8.19" height="3.50" fill="#f48f94"/><rect x="484.46" y="195.30" width="8.19" height="1.70" fill="#f48f94"/><rect x="468.07" y="203.20" width="8.19" height="2.70" fill="#f48f94"/><rect x="492.65" y="241.30" width="8.19" height="1.80" fill="#f48f94"/><rect x="509.04" y="306.20" width="8.19" height="1.80" fill="#f48f94"/><rect x="552.00" y="19.00" width="8.17" height="2.00" fill="#8a9ec6"/><rect x="601.03" y="30.20" width="8.17" height="1.80" fill="#8a9ec6"/><rect x="609.20" y="45.80" width="8.17" height="1.80" fill="#8a9ec6"/><rect x="625.54" y="79.80" width="8.17" height="2.20" fill="#8a9ec6"/><rect x="609.20" y="114.00" width="8.17" height="1.70" fill="#8a9ec6"/><rect x="625.54" y="114.00" width="8.17" height="1.70" fill="#8a9ec6"/><rect x="568.34" y="172.80" width="8.17" height="1.80" fill="#8a9ec6"/><rect x="541.81" y="83.90" width="8.19" height="1.40" fill="#f38388"/><rect x="541.81" y="142.70" width="8.19" height="1.80" fill="#f38388"/><rect x="435.30" y="159.00" width="8.19" height="6.30" fill="#f38388"/><rect x="451.69" y="180.30" width="8.19" height="2.70" fill="#f38388"/><rect x="435.30" y="234.00" width="8.19" height="9.00" fill="#f38388"/><rect x="459.88" y="268.20" width="8.19" height="3.50" fill="#f38388"/><rect x="435.30" y="283.20" width="8.19" height="5.30" fill="#f38388"/><rect x="601.03" y="37.80" width="8.17" height="1.80" fill="#8097c2"/><rect x="451.69" y="30.30" width="8.19" height="4.90" fill="#f3777d"/><rect x="509.04" y="30.30" width="16.39" height="4.90" fill="#f3777d"/><rect x="435.30" y="41.40" width="8.19" height="1.80" fill="#f3777d"/><rect x="435.30" y="62.60" width="8.19" height="1.80" fill="#f3777d"/><rect x="435.30" y="66.20" width="8.19" height="3.50" fill="#f3777d"/><rect x="484.46" y="70.60" width="8.19" height="3.50" fill="#f3777d"/><rect x="541.81" y="79.80" width="8.19" height="1.80" fill="#f3777d"/><rect x="451.69" y="108.00" width="8.19" height="2.00" fill="#f3777d"/><rect x="484.46" y="114.00" width="16.39" height="1.70" fill="#f3777d"/><rect x="468.07" y="119.00" width="8.19" height="3.80" fill="#f3777d"/><rect x="451.69" y="122.80" width="8.19" height="2.20" fill="#f3777d"/><rect x="509.04" y="146.30" width="8.19" height="2.10" fill="#f3777d"/><rect x="525.42" y="146.30" width="8.19" height="2.10" fill="#f3777d"/><rect x="435.30" y="169.70" width="8.19" height="3.50" fill="#f3777d"/><rect x="509.04" y="169.70" width="16.39" height="7.00" fill="#f3777d"/><rect x="509.04" y="180.30" width="8.19" height="2.70" fill="#f3777d"/><rect x="509.04" y="203.20" width="16.39" height="2.70" fill="#f3777d"/><rect x="435.30" y="306.20" width="8.19" height="1.80" fill="#f3777d"/><rect x="468.07" y="31.70" width="8.19" height="2.10" fill="#f26b70"/><rect x="451.69" y="38.00" width="8.19" height="2.00" fill="#f26b70"/><rect x="509.04" y="59.00" width="16.39" height="1.80" fill="#f26b70"/><rect x="541.81" y="59.00" width="8.19" height="1.80" fill="#f26b70"/><rect x="525.42" y="77.70" width="16.39" height="1.70" fill="#f26b70"/><rect x="459.88" y="83.90" width="8.19" height="1.40" fill="#f26b70"/><rect x="435.30" y="122.80" width="8.19" height="2.20" fill="#f26b70"/><rect x="468.07" y="122.80" width="8.19" height="2.20" fill="#f26b70"/><rect x="509.04" y="150.20" width="8.19" height="2.10" fill="#f26b70"/><rect x="451.69" y="167.00" width="8.19" height="1.80" fill="#f26b70"/><rect x="484.46" y="187.30" width="8.19" height="2.70" fill="#f26b70"/><rect x="435.30" y="203.20" width="8.19" height="2.70" fill="#f26b70"/><rect x="451.69" y="217.00" width="8.19" height="1.70" fill="#f26b70"/><rect x="459.88" y="239.60" width="8.19" height="1.70" fill="#f26b70"/><rect x="459.88" y="254.60" width="8.19" height="1.80" fill="#f26b70"/><rect x="443.49" y="59.00" width="8.19" height="1.80" fill="#f15f64"/><rect x="509.04" y="79.80" width="16.39" height="1.80" fill="#f15f64"/><rect x="451.69" y="97.10" width="8.19" height="1.40" fill="#f15f64"/><rect x="443.49" y="122.80" width="8.19" height="2.20" fill="#f15f64"/><rect x="509.04" y="122.80" width="16.39" height="2.20" fill="#f15f64"/><rect x="484.46" y="167.00" width="8.19" height="1.80" fill="#f15258"/><rect x="633.71" y="106.30" width="8.17" height="2.30" fill="#4567a5"/><rect x="633.71" y="66.70" width="8.17" height="3.00" fill="#3b5fa0"/><rect x="552.00" y="70.20" width="8.17" height="2.50" fill="#3b5fa0"/><rect x="633.71" y="134.60" width="8.17" height="2.80" fill="#3b5fa0"/><rect x="633.71" y="169.30" width="8.17" height="1.40" fill="#3b5fa0"/><rect x="641.89" y="35.50" width="16.34" height="1.80" fill="#30569b"/><rect x="601.03" y="167.50" width="8.17" height="1.80" fill="#30569b"/><rect x="601.03" y="187.80" width="8.17" height="2.20" fill="#30569b"/><rect x="633.71" y="195.30" width="8.17" height="2.30" fill="#30569b"/><rect x="434.30" y="6.20" width="116.60" height="9.20" rx="0" fill="#fff" stroke="#9db2d6" stroke-width="0.8" /><text x="439.39" y="13.30" font-size="4.6" text-anchor="middle" font-weight="bold" class="b" fill="#333" >1</text><text x="447.58" y="13.30" font-size="4.6" text-anchor="middle" font-weight="bold" class="b" fill="#333" >2</text><text x="455.76" y="13.30" font-size="4.6" text-anchor="middle" font-weight="bold" class="b" fill="#333" >3</text><text x="463.95" y="13.30" font-size="4.6" text-anchor="middle" font-weight="bold" class="b" fill="#333" >4</text><text x="472.14" y="13.30" font-size="4.6" text-anchor="middle" font-weight="bold" class="b" fill="#333" >5</text><text x="480.32" y="13.30" font-size="4.6" text-anchor="middle" font-weight="bold" class="b" fill="#333" >6</text><text x="488.51" y="13.30" font-size="4.6" text-anchor="middle" font-weight="bold" class="b" fill="#333" >7</text><text x="496.69" y="13.30" font-size="4.6" text-anchor="middle" font-weight="bold" class="b" fill="#333" >8</text><text x="504.88" y="13.30" font-size="4.6" text-anchor="middle" font-weight="bold" class="b" fill="#333" >9</text><text x="513.06" y="13.30" font-size="4.6" text-anchor="middle" font-weight="bold" class="b" fill="#333" >10</text><text x="521.25" y="13.30" font-size="4.6" text-anchor="middle" font-weight="bold" class="b" fill="#333" >11</text><text x="529.44" y="13.30" font-size="4.6" text-anchor="middle" font-weight="bold" class="b" fill="#333" >12</text><text x="537.62" y="13.30" font-size="4.6" text-anchor="middle" font-weight="bold" class="b" fill="#333" >13</text><text x="545.81" y="13.30" font-size="4.6" text-anchor="middle" font-weight="bold" class="b" fill="#333" >14</text><rect x="552.30" y="6.20" width="116.90" height="9.20" rx="0" fill="#fff" stroke="#9db2d6" stroke-width="0.8" /><text x="557.40" y="13.30" font-size="4.6" text-anchor="middle" font-weight="bold" class="b" fill="#333" >1</text><text x="565.61" y="13.30" font-size="4.6" text-anchor="middle" font-weight="bold" class="b" fill="#333" >2</text><text x="573.82" y="13.30" font-size="4.6" text-anchor="middle" font-weight="bold" class="b" fill="#333" >3</text><text x="582.02" y="13.30" font-size="4.6" text-anchor="middle" font-weight="bold" class="b" fill="#333" >4</text><text x="590.23" y="13.30" font-size="4.6" text-anchor="middle" font-weight="bold" class="b" fill="#333" >5</text><text x="598.44" y="13.30" font-size="4.6" text-anchor="middle" font-weight="bold" class="b" fill="#333" >6</text><text x="606.65" y="13.30" font-size="4.6" text-anchor="middle" font-weight="bold" class="b" fill="#333" >7</text><text x="614.85" y="13.30" font-size="4.6" text-anchor="middle" font-weight="bold" class="b" fill="#333" >8</text><text x="623.06" y="13.30" font-size="4.6" text-anchor="middle" font-weight="bold" class="b" fill="#333" >9</text><text x="631.27" y="13.30" font-size="4.6" text-anchor="middle" font-weight="bold" class="b" fill="#333" >10</text><text x="639.48" y="13.30" font-size="4.6" text-anchor="middle" font-weight="bold" class="b" fill="#333" >11</text><text x="647.68" y="13.30" font-size="4.6" text-anchor="middle" font-weight="bold" class="b" fill="#333" >12</text><text x="655.89" y="13.30" font-size="4.6" text-anchor="middle" font-weight="bold" class="b" fill="#333" >13</text><text x="664.10" y="13.30" font-size="4.6" text-anchor="middle" font-weight="bold" class="b" fill="#333" >14</text><rect x="434.20" y="16.50" width="234.60" height="303.90" rx="0" fill="none" stroke="#000" stroke-width="2.1" /><line x1="550.90" y1="16.50" x2="550.90" y2="320.40" stroke="#000" stroke-width="2.1" /><line x1="434.20" y1="208.00" x2="668.80" y2="208.00" stroke="#000" stroke-width="2.1" /><g transform="translate(421.70,117.70) rotate(-90) scale(1.0,1)"><text x="0" y="0" font-size="12.2" text-anchor="middle" font-weight="bold" class="b" fill="#111" dominant-baseline="central">NDD</text></g><g transform="translate(423.80,255.50) rotate(-90) scale(1.0,1)"><text x="0" y="0" font-size="12.4" text-anchor="middle" font-weight="bold" class="b" fill="#111" dominant-baseline="central">controls</text></g><text x="490.20" y="338.30" font-size="12.6" text-anchor="middle" class="r" fill="#111" >Infections in the</text><text x="489.50" y="353.30" font-size="12.6" text-anchor="middle" class="r" fill="#111" >first 5 years of life</text><text x="610.50" y="338.30" font-size="12.6" text-anchor="middle" class="r" fill="#111" >Infections in the</text><text x="610.50" y="353.30" font-size="12.6" text-anchor="middle" class="r" fill="#111" >last 12 months</text><text x="9.20" y="394.30" font-size="15" text-anchor="start" font-weight="bold" class="b" fill="#000" >C</text><text x="102.90" y="392.80" font-size="12.6" text-anchor="middle" class="r" fill="#111" >Throat inf.</text><line x1="56.60" y1="418.60" x2="56.60" y2="552.00" stroke="#000" stroke-width="1.4" /><line x1="51.10" y1="551.30" x2="56.60" y2="551.30" stroke="#000" stroke-width="1.2" /><text x="49.40" y="554.90" font-size="10" text-anchor="end" font-weight="bold" class="b" fill="#000" >-1</text><line x1="51.10" y1="529.30" x2="56.60" y2="529.30" stroke="#000" stroke-width="1.2" /><text x="49.40" y="532.90" font-size="10" text-anchor="end" font-weight="bold" class="b" fill="#000" >0</text><line x1="51.10" y1="507.30" x2="56.60" y2="507.30" stroke="#000" stroke-width="1.2" /><text x="49.40" y="510.90" font-size="10" text-anchor="end" font-weight="bold" class="b" fill="#000" >1</text><line x1="51.10" y1="485.30" x2="56.60" y2="485.30" stroke="#000" stroke-width="1.2" /><text x="49.40" y="488.90" font-size="10" text-anchor="end" font-weight="bold" class="b" fill="#000" >2</text><line x1="51.10" y1="463.30" x2="56.60" y2="463.30" stroke="#000" stroke-width="1.2" /><text x="49.40" y="466.90" font-size="10" text-anchor="end" font-weight="bold" class="b" fill="#000" >3</text><line x1="51.10" y1="441.30" x2="56.60" y2="441.30" stroke="#000" stroke-width="1.2" /><text x="49.40" y="444.90" font-size="10" text-anchor="end" font-weight="bold" class="b" fill="#000" >4</text><line x1="51.10" y1="419.30" x2="56.60" y2="419.30" stroke="#000" stroke-width="1.2" /><text x="49.40" y="422.90" font-size="10" text-anchor="end" font-weight="bold" class="b" fill="#000" >5</text><line x1="56.60" y1="529.30" x2="144.30" y2="529.30" stroke="#000" stroke-width="1.4" /><line x1="56.60" y1="551.30" x2="144.30" y2="551.30" stroke="#000" stroke-width="1.4" /><line x1="81.70" y1="551.30" x2="81.70" y2="557.10" stroke="#000" stroke-width="1.7" /><line x1="119.40" y1="551.30" x2="119.40" y2="557.10" stroke="#000" stroke-width="1.7" /><path d="M81.70,434.30 L81.70,425.60 L119.40,425.60 L119.40,457.80" fill="none" stroke="#000" stroke-width="1.3"/><text x="100.55" y="419.60" font-size="10.4" text-anchor="middle" class="r" fill="#111" >0.0009</text><rect x="70.70" y="507.30" width="22.00" height="22.00" rx="0" fill="#7f7f7f" stroke="#000" stroke-width="2" /><rect x="108.40" y="522.70" width="22.00" height="6.60" rx="0" fill="#d6d6d6" stroke="#000" stroke-width="2" /><line x1="81.70" y1="478.26" x2="81.70" y2="535.46" stroke="#333" stroke-width="1.0" /><line x1="75.20" y1="478.26" x2="88.20" y2="478.26" stroke="#333" stroke-width="1.0" /><line x1="75.20" y1="535.46" x2="88.20" y2="535.46" stroke="#333" stroke-width="1.0" /><line x1="119.40" y1="507.30" x2="119.40" y2="537.22" stroke="#333" stroke-width="1.0" /><line x1="112.90" y1="507.30" x2="125.90" y2="507.30" stroke="#333" stroke-width="1.0" /><line x1="112.90" y1="537.22" x2="125.90" y2="537.22" stroke="#333" stroke-width="1.0" /><rect x="79.20" y="439.10" width="5.00" height="4.40" rx="2.2" fill="#000"/><rect x="77.90" y="461.10" width="7.60" height="4.40" rx="2.2" fill="#000"/><rect x="77.45" y="483.10" width="8.50" height="4.40" rx="2.2" fill="#000"/><rect x="77.90" y="505.10" width="7.60" height="4.40" rx="2.2" fill="#000"/><rect x="117.20" y="461.10" width="4.40" height="4.40" rx="2.2" fill="#000"/><rect x="116.70" y="483.10" width="5.40" height="4.40" rx="2.2" fill="#000"/><rect x="115.10" y="505.10" width="8.60" height="4.40" rx="2.2" fill="#000"/><rect x="70.20" y="527.10" width="23.00" height="4.40" rx="2" fill="#000" stroke="none" stroke-width="1" /><rect x="107.90" y="527.10" width="23.00" height="4.40" rx="2" fill="#000" stroke="none" stroke-width="1" /><g transform="translate(29.30,484.80) rotate(-90) scale(1.0,1)"><text x="0" y="0" font-size="10.5" text-anchor="middle" font-weight="bold" class="b" fill="#111" dominant-baseline="central">frequency</text></g><text x="81.70" y="567.50" font-size="9.8" text-anchor="middle" font-weight="bold" class="b" fill="#000" >NDD</text><text x="116.40" y="567.50" font-size="9.8" text-anchor="middle" font-weight="bold" class="b" fill="#000" >controls</text><text x="230.70" y="390.80" font-size="12.6" text-anchor="middle" class="r" fill="#111" >Ear Inf.</text><line x1="182.10" y1="416.60" x2="182.10" y2="550.00" stroke="#000" stroke-width="1.4" /><line x1="176.60" y1="549.30" x2="182.10" y2="549.30" stroke="#000" stroke-width="1.2" /><text x="174.90" y="552.90" font-size="10" text-anchor="end" font-weight="bold" class="b" fill="#000" >-1</text><line x1="176.60" y1="527.30" x2="182.10" y2="527.30" stroke="#000" stroke-width="1.2" /><text x="174.90" y="530.90" font-size="10" text-anchor="end" font-weight="bold" class="b" fill="#000" >0</text><line x1="176.60" y1="505.30" x2="182.10" y2="505.30" stroke="#000" stroke-width="1.2" /><text x="174.90" y="508.90" font-size="10" text-anchor="end" font-weight="bold" class="b" fill="#000" >1</text><line x1="176.60" y1="483.30" x2="182.10" y2="483.30" stroke="#000" stroke-width="1.2" /><text x="174.90" y="486.90" font-size="10" text-anchor="end" font-weight="bold" class="b" fill="#000" >2</text><line x1="176.60" y1="461.30" x2="182.10" y2="461.30" stroke="#000" stroke-width="1.2" /><text x="174.90" y="464.90" font-size="10" text-anchor="end" font-weight="bold" class="b" fill="#000" >3</text><line x1="176.60" y1="439.30" x2="182.10" y2="439.30" stroke="#000" stroke-width="1.2" /><text x="174.90" y="442.90" font-size="10" text-anchor="end" font-weight="bold" class="b" fill="#000" >4</text><line x1="176.60" y1="417.30" x2="182.10" y2="417.30" stroke="#000" stroke-width="1.2" /><text x="174.90" y="420.90" font-size="10" text-anchor="end" font-weight="bold" class="b" fill="#000" >5</text><line x1="182.10" y1="527.30" x2="270.00" y2="527.30" stroke="#000" stroke-width="1.4" /><line x1="182.10" y1="549.30" x2="270.00" y2="549.30" stroke="#000" stroke-width="1.4" /><line x1="206.70" y1="549.30" x2="206.70" y2="555.10" stroke="#000" stroke-width="1.7" /><line x1="244.60" y1="549.30" x2="244.60" y2="555.10" stroke="#000" stroke-width="1.7" /><path d="M206.70,432.30 L206.70,423.60 L244.60,423.60 L244.60,452.94" fill="none" stroke="#000" stroke-width="1.3"/><text x="225.65" y="417.60" font-size="10.4" text-anchor="middle" class="r" fill="#111" >0.0014</text><rect x="195.70" y="507.50" width="22.00" height="19.80" rx="0" fill="#7f7f7f" stroke="#000" stroke-width="2" /><rect x="233.60" y="518.50" width="22.00" height="8.80" rx="0" fill="#d6d6d6" stroke="#000" stroke-width="2" /><line x1="206.70" y1="483.74" x2="206.70" y2="531.70" stroke="#333" stroke-width="1.0" /><line x1="200.20" y1="483.74" x2="213.20" y2="483.74" stroke="#333" stroke-width="1.0" /><line x1="200.20" y1="531.70" x2="213.20" y2="531.70" stroke="#333" stroke-width="1.0" /><line x1="244.60" y1="499.14" x2="244.60" y2="537.86" stroke="#333" stroke-width="1.0" /><line x1="238.10" y1="499.14" x2="251.10" y2="499.14" stroke="#333" stroke-width="1.0" /><line x1="238.10" y1="537.86" x2="251.10" y2="537.86" stroke="#333" stroke-width="1.0" /><rect x="204.50" y="437.10" width="4.40" height="4.40" rx="2.2" fill="#000"/><rect x="203.20" y="459.10" width="7.00" height="4.40" rx="2.2" fill="#000"/><rect x="200.85" y="481.10" width="11.70" height="4.40" rx="2.2" fill="#000"/><rect x="202.95" y="503.10" width="7.50" height="4.40" rx="2.2" fill="#000"/><rect x="242.40" y="459.10" width="4.40" height="4.40" rx="2.2" fill="#000"/><rect x="241.60" y="481.10" width="6.00" height="4.40" rx="2.2" fill="#000"/><rect x="242.40" y="503.10" width="4.40" height="4.40" rx="2.2" fill="#000"/><rect x="195.20" y="525.10" width="23.00" height="4.40" rx="2" fill="#000" stroke="none" stroke-width="1" /><rect x="233.10" y="525.10" width="23.00" height="4.40" rx="2" fill="#000" stroke="none" stroke-width="1" /><g transform="translate(154.80,482.80) rotate(-90) scale(1.0,1)"><text x="0" y="0" font-size="10.5" text-anchor="middle" font-weight="bold" class="b" fill="#111" dominant-baseline="central">frequency</text></g><text x="206.70" y="565.50" font-size="9.8" text-anchor="middle" font-weight="bold" class="b" fill="#000" >NDD</text><text x="241.60" y="565.50" font-size="9.8" text-anchor="middle" font-weight="bold" class="b" fill="#000" >controls</text><text x="356.60" y="390.80" font-size="12.6" text-anchor="middle" class="r" fill="#111" >Mouth ulcers</text><line x1="310.30" y1="416.60" x2="310.30" y2="550.00" stroke="#000" stroke-width="1.4" /><line x1="304.80" y1="549.30" x2="310.30" y2="549.30" stroke="#000" stroke-width="1.2" /><text x="303.10" y="552.90" font-size="10" text-anchor="end" font-weight="bold" class="b" fill="#000" >-1</text><line x1="304.80" y1="527.30" x2="310.30" y2="527.30" stroke="#000" stroke-width="1.2" /><text x="303.10" y="530.90" font-size="10" text-anchor="end" font-weight="bold" class="b" fill="#000" >0</text><line x1="304.80" y1="505.30" x2="310.30" y2="505.30" stroke="#000" stroke-width="1.2" /><text x="303.10" y="508.90" font-size="10" text-anchor="end" font-weight="bold" class="b" fill="#000" >1</text><line x1="304.80" y1="483.30" x2="310.30" y2="483.30" stroke="#000" stroke-width="1.2" /><text x="303.10" y="486.90" font-size="10" text-anchor="end" font-weight="bold" class="b" fill="#000" >2</text><line x1="304.80" y1="461.30" x2="310.30" y2="461.30" stroke="#000" stroke-width="1.2" /><text x="303.10" y="464.90" font-size="10" text-anchor="end" font-weight="bold" class="b" fill="#000" >3</text><line x1="304.80" y1="439.30" x2="310.30" y2="439.30" stroke="#000" stroke-width="1.2" /><text x="303.10" y="442.90" font-size="10" text-anchor="end" font-weight="bold" class="b" fill="#000" >4</text><line x1="304.80" y1="417.30" x2="310.30" y2="417.30" stroke="#000" stroke-width="1.2" /><text x="303.10" y="420.90" font-size="10" text-anchor="end" font-weight="bold" class="b" fill="#000" >5</text><line x1="310.30" y1="527.30" x2="398.20" y2="527.30" stroke="#000" stroke-width="1.4" /><line x1="310.30" y1="549.30" x2="398.20" y2="549.30" stroke="#000" stroke-width="1.4" /><line x1="334.40" y1="549.30" x2="334.40" y2="555.10" stroke="#000" stroke-width="1.7" /><line x1="372.50" y1="549.30" x2="372.50" y2="555.10" stroke="#000" stroke-width="1.7" /><path d="M334.40,432.30 L334.40,423.60 L372.50,423.60 L372.50,475.82" fill="none" stroke="#000" stroke-width="1.3"/><text x="353.45" y="417.60" font-size="10.4" text-anchor="middle" class="r" fill="#111" >0.0033</text><rect x="323.40" y="518.50" width="22.00" height="8.80" rx="0" fill="#7f7f7f" stroke="#000" stroke-width="2" /><line x1="334.40" y1="497.60" x2="334.40" y2="538.30" stroke="#333" stroke-width="1.0" /><line x1="327.90" y1="497.60" x2="340.90" y2="497.60" stroke="#333" stroke-width="1.0" /><line x1="327.90" y1="538.30" x2="340.90" y2="538.30" stroke="#333" stroke-width="1.0" /><line x1="372.50" y1="517.40" x2="372.50" y2="533.90" stroke="#333" stroke-width="1.0" /><line x1="366.00" y1="517.40" x2="379.00" y2="517.40" stroke="#333" stroke-width="1.0" /><line x1="366.00" y1="533.90" x2="379.00" y2="533.90" stroke="#333" stroke-width="1.0" /><rect x="332.20" y="437.10" width="4.40" height="4.40" rx="2.2" fill="#000"/><rect x="331.65" y="459.10" width="5.50" height="4.40" rx="2.2" fill="#000"/><rect x="331.40" y="481.10" width="6.00" height="4.40" rx="2.2" fill="#000"/><rect x="332.20" y="503.10" width="4.40" height="4.40" rx="2.2" fill="#000"/><rect x="370.30" y="481.10" width="4.40" height="4.40" rx="2.2" fill="#000"/><rect x="360.15" y="525.10" width="24.70" height="4.40" rx="2.2" fill="#000"/><rect x="322.90" y="525.10" width="23.00" height="4.40" rx="2" fill="#000" stroke="none" stroke-width="1" /><g transform="translate(283.00,482.80) rotate(-90) scale(1.0,1)"><text x="0" y="0" font-size="10.5" text-anchor="middle" font-weight="bold" class="b" fill="#111" dominant-baseline="central">frequency</text></g><text x="334.40" y="565.50" font-size="9.8" text-anchor="middle" font-weight="bold" class="b" fill="#000" >NDD</text><text x="369.50" y="565.50" font-size="9.8" text-anchor="middle" font-weight="bold" class="b" fill="#000" >controls</text><text x="480.70" y="391.50" font-size="12.6" text-anchor="middle" class="r" fill="#111" >GP visit for inf.</text><line x1="435.60" y1="417.30" x2="435.60" y2="550.70" stroke="#000" stroke-width="1.4" /><line x1="430.10" y1="550.00" x2="435.60" y2="550.00" stroke="#000" stroke-width="1.2" /><text x="428.40" y="553.60" font-size="10" text-anchor="end" font-weight="bold" class="b" fill="#000" >-1</text><line x1="430.10" y1="528.00" x2="435.60" y2="528.00" stroke="#000" stroke-width="1.2" /><text x="428.40" y="531.60" font-size="10" text-anchor="end" font-weight="bold" class="b" fill="#000" >0</text><line x1="430.10" y1="506.00" x2="435.60" y2="506.00" stroke="#000" stroke-width="1.2" /><text x="428.40" y="509.60" font-size="10" text-anchor="end" font-weight="bold" class="b" fill="#000" >1</text><line x1="430.10" y1="484.00" x2="435.60" y2="484.00" stroke="#000" stroke-width="1.2" /><text x="428.40" y="487.60" font-size="10" text-anchor="end" font-weight="bold" class="b" fill="#000" >2</text><line x1="430.10" y1="462.00" x2="435.60" y2="462.00" stroke="#000" stroke-width="1.2" /><text x="428.40" y="465.60" font-size="10" text-anchor="end" font-weight="bold" class="b" fill="#000" >3</text><line x1="430.10" y1="440.00" x2="435.60" y2="440.00" stroke="#000" stroke-width="1.2" /><text x="428.40" y="443.60" font-size="10" text-anchor="end" font-weight="bold" class="b" fill="#000" >4</text><line x1="430.10" y1="418.00" x2="435.60" y2="418.00" stroke="#000" stroke-width="1.2" /><text x="428.40" y="421.60" font-size="10" text-anchor="end" font-weight="bold" class="b" fill="#000" >5</text><line x1="435.60" y1="528.00" x2="523.60" y2="528.00" stroke="#000" stroke-width="1.4" /><line x1="435.60" y1="550.00" x2="523.60" y2="550.00" stroke="#000" stroke-width="1.4" /><line x1="460.40" y1="550.00" x2="460.40" y2="555.80" stroke="#000" stroke-width="1.7" /><line x1="498.30" y1="550.00" x2="498.30" y2="555.80" stroke="#000" stroke-width="1.7" /><path d="M460.40,433.00 L460.40,424.30 L498.30,424.30 L498.30,476.52" fill="none" stroke="#000" stroke-width="1.3"/><text x="479.35" y="418.30" font-size="10.4" text-anchor="middle" class="r" fill="#111" >&lt;0.0001</text><rect x="449.40" y="495.00" width="22.00" height="33.00" rx="0" fill="#7f7f7f" stroke="#000" stroke-width="2" /><line x1="460.40" y1="466.40" x2="460.40" y2="523.60" stroke="#333" stroke-width="1.0" /><line x1="453.90" y1="466.40" x2="466.90" y2="466.40" stroke="#333" stroke-width="1.0" /><line x1="453.90" y1="523.60" x2="466.90" y2="523.60" stroke="#333" stroke-width="1.0" /><line x1="498.30" y1="521.40" x2="498.30" y2="532.84" stroke="#333" stroke-width="1.0" /><line x1="491.80" y1="521.40" x2="504.80" y2="521.40" stroke="#333" stroke-width="1.0" /><line x1="491.80" y1="532.84" x2="504.80" y2="532.84" stroke="#333" stroke-width="1.0" /><rect x="457.40" y="437.80" width="6.00" height="4.40" rx="2.2" fill="#000"/><rect x="453.15" y="459.80" width="14.50" height="4.40" rx="2.2" fill="#000"/><rect x="450.40" y="481.80" width="20.00" height="4.40" rx="2.2" fill="#000"/><rect x="455.40" y="503.80" width="10.00" height="4.40" rx="2.2" fill="#000"/><rect x="496.10" y="481.80" width="4.40" height="4.40" rx="2.2" fill="#000"/><rect x="486.00" y="525.80" width="24.60" height="4.40" rx="2.2" fill="#000"/><rect x="448.90" y="525.80" width="23.00" height="4.40" rx="2" fill="#000" stroke="none" stroke-width="1" /><g transform="translate(408.30,483.50) rotate(-90) scale(1.0,1)"><text x="0" y="0" font-size="10.5" text-anchor="middle" font-weight="bold" class="b" fill="#111" dominant-baseline="central">frequency</text></g><text x="460.40" y="566.20" font-size="9.8" text-anchor="middle" font-weight="bold" class="b" fill="#000" >NDD</text><text x="495.30" y="566.20" font-size="9.8" text-anchor="middle" font-weight="bold" class="b" fill="#000" >controls</text><text x="606.90" y="391.30" font-size="12.6" text-anchor="middle" class="r" fill="#111" >Antibiotics for inf.</text><line x1="565.50" y1="417.10" x2="565.50" y2="550.50" stroke="#000" stroke-width="1.4" /><line x1="560.00" y1="549.80" x2="565.50" y2="549.80" stroke="#000" stroke-width="1.2" /><text x="558.30" y="553.40" font-size="10" text-anchor="end" font-weight="bold" class="b" fill="#000" >-1</text><line x1="560.00" y1="527.80" x2="565.50" y2="527.80" stroke="#000" stroke-width="1.2" /><text x="558.30" y="531.40" font-size="10" text-anchor="end" font-weight="bold" class="b" fill="#000" >0</text><line x1="560.00" y1="505.80" x2="565.50" y2="505.80" stroke="#000" stroke-width="1.2" /><text x="558.30" y="509.40" font-size="10" text-anchor="end" font-weight="bold" class="b" fill="#000" >1</text><line x1="560.00" y1="483.80" x2="565.50" y2="483.80" stroke="#000" stroke-width="1.2" /><text x="558.30" y="487.40" font-size="10" text-anchor="end" font-weight="bold" class="b" fill="#000" >2</text><line x1="560.00" y1="461.80" x2="565.50" y2="461.80" stroke="#000" stroke-width="1.2" /><text x="558.30" y="465.40" font-size="10" text-anchor="end" font-weight="bold" class="b" fill="#000" >3</text><line x1="560.00" y1="439.80" x2="565.50" y2="439.80" stroke="#000" stroke-width="1.2" /><text x="558.30" y="443.40" font-size="10" text-anchor="end" font-weight="bold" class="b" fill="#000" >4</text><line x1="560.00" y1="417.80" x2="565.50" y2="417.80" stroke="#000" stroke-width="1.2" /><text x="558.30" y="421.40" font-size="10" text-anchor="end" font-weight="bold" class="b" fill="#000" >5</text><line x1="565.50" y1="527.80" x2="653.50" y2="527.80" stroke="#000" stroke-width="1.4" /><line x1="565.50" y1="549.80" x2="653.50" y2="549.80" stroke="#000" stroke-width="1.4" /><line x1="590.80" y1="549.80" x2="590.80" y2="555.60" stroke="#000" stroke-width="1.7" /><line x1="629.40" y1="549.80" x2="629.40" y2="555.60" stroke="#000" stroke-width="1.7" /><path d="M590.80,432.80 L590.80,424.10 L629.40,424.10 L629.40,498.10" fill="none" stroke="#000" stroke-width="1.3"/><text x="610.10" y="418.10" font-size="10.4" text-anchor="middle" class="r" fill="#111" >&lt;0.0001</text><rect x="579.80" y="498.10" width="22.00" height="29.70" rx="0" fill="#7f7f7f" stroke="#000" stroke-width="2" /><line x1="590.80" y1="470.16" x2="590.80" y2="525.60" stroke="#333" stroke-width="1.0" /><line x1="584.30" y1="470.16" x2="597.30" y2="470.16" stroke="#333" stroke-width="1.0" /><line x1="584.30" y1="525.60" x2="597.30" y2="525.60" stroke="#333" stroke-width="1.0" /><line x1="629.40" y1="519.44" x2="629.40" y2="531.76" stroke="#333" stroke-width="1.0" /><line x1="622.90" y1="519.44" x2="635.90" y2="519.44" stroke="#333" stroke-width="1.0" /><line x1="622.90" y1="531.76" x2="635.90" y2="531.76" stroke="#333" stroke-width="1.0" /><rect x="588.00" y="437.60" width="5.60" height="4.40" rx="2.2" fill="#000"/><rect x="584.80" y="459.60" width="12.00" height="4.40" rx="2.2" fill="#000"/><rect x="581.90" y="481.60" width="17.80" height="4.40" rx="2.2" fill="#000"/><rect x="585.20" y="503.60" width="11.20" height="4.40" rx="2.2" fill="#000"/><rect x="626.90" y="503.60" width="5.00" height="4.40" rx="2.2" fill="#000"/><rect x="617.20" y="525.60" width="24.40" height="4.40" rx="2.2" fill="#000"/><rect x="579.30" y="525.60" width="23.00" height="4.40" rx="2" fill="#000" stroke="none" stroke-width="1" /><g transform="translate(538.20,483.30) rotate(-90) scale(1.0,1)"><text x="0" y="0" font-size="10.5" text-anchor="middle" font-weight="bold" class="b" fill="#111" dominant-baseline="central">frequency</text></g><text x="590.80" y="566.00" font-size="9.8" text-anchor="middle" font-weight="bold" class="b" fill="#000" >NDD</text><text x="626.40" y="566.00" font-size="9.8" text-anchor="middle" font-weight="bold" class="b" fill="#000" >controls</text><text x="12.00" y="614.40" font-size="17" text-anchor="start" font-weight="bold" class="b" fill="#000" >D</text><text x="114.30" y="612.60" font-size="12.6" text-anchor="middle" class="r" fill="#111" >Total difficulties.</text><line x1="66.80" y1="643.40" x2="66.80" y2="775.20" stroke="#000" stroke-width="1.4" /><line x1="61.00" y1="774.50" x2="66.80" y2="774.50" stroke="#000" stroke-width="1.2" /><text x="59.80" y="778.20" font-size="10.2" text-anchor="end" font-weight="bold" class="b" fill="#000" >0</text><line x1="61.00" y1="741.90" x2="66.80" y2="741.90" stroke="#000" stroke-width="1.2" /><text x="59.80" y="745.60" font-size="10.2" text-anchor="end" font-weight="bold" class="b" fill="#000" >10</text><line x1="61.00" y1="709.30" x2="66.80" y2="709.30" stroke="#000" stroke-width="1.2" /><text x="59.80" y="713.00" font-size="10.2" text-anchor="end" font-weight="bold" class="b" fill="#000" >20</text><line x1="61.00" y1="676.70" x2="66.80" y2="676.70" stroke="#000" stroke-width="1.2" /><text x="59.80" y="680.40" font-size="10.2" text-anchor="end" font-weight="bold" class="b" fill="#000" >30</text><line x1="61.00" y1="644.10" x2="66.80" y2="644.10" stroke="#000" stroke-width="1.2" /><text x="59.80" y="647.80" font-size="10.2" text-anchor="end" font-weight="bold" class="b" fill="#000" >40</text><line x1="62.00" y1="774.50" x2="154.60" y2="774.50" stroke="#000" stroke-width="1.4" /><line x1="92.00" y1="774.50" x2="92.00" y2="779.70" stroke="#000" stroke-width="1.4" /><line x1="129.30" y1="774.50" x2="129.30" y2="779.70" stroke="#000" stroke-width="1.4" /><path d="M92.0,649.9 L92.0,641.1 L129.3,641.1 L129.3,718.5" fill="none" stroke="#000" stroke-width="1.3"/><text x="110.60" y="635.30" font-size="10.4" text-anchor="middle" class="r" fill="#111" >&lt;0.0001</text><line x1="66.80" y1="719.08" x2="154.60" y2="719.08" stroke="#000" stroke-width="1.5" stroke-dasharray="6,3"/><line x1="66.80" y1="728.86" x2="154.60" y2="728.86" stroke="#000" stroke-width="1.0" stroke-dasharray="1.2,1.6"/><circle cx="92.00" cy="657.14" r="1.42" fill="#000"/><circle cx="92.00" cy="663.66" r="1.42" fill="#000"/><circle cx="92.00" cy="670.18" r="1.42" fill="#000"/><circle cx="87.88" cy="673.44" r="1.42" fill="#000"/><circle cx="90.62" cy="673.44" r="1.42" fill="#000"/><circle cx="93.38" cy="673.44" r="1.42" fill="#000"/><circle cx="96.12" cy="673.44" r="1.42" fill="#000"/><circle cx="92.00" cy="679.96" r="1.42" fill="#000"/><circle cx="89.25" cy="683.22" r="1.42" fill="#000"/><circle cx="92.00" cy="683.22" r="1.42" fill="#000"/><circle cx="94.75" cy="683.22" r="1.42" fill="#000"/><circle cx="89.25" cy="686.48" r="1.42" fill="#000"/><circle cx="92.00" cy="686.48" r="1.42" fill="#000"/><circle cx="94.75" cy="686.48" r="1.42" fill="#000"/><circle cx="86.50" cy="689.74" r="1.42" fill="#000"/><circle cx="89.25" cy="689.74" r="1.42" fill="#000"/><circle cx="92.00" cy="689.74" r="1.42" fill="#000"/><circle cx="94.75" cy="689.74" r="1.42" fill="#000"/><circle cx="97.50" cy="689.74" r="1.42" fill="#000"/><circle cx="89.25" cy="693.00" r="1.42" fill="#000"/><circle cx="92.00" cy="693.00" r="1.42" fill="#000"/><circle cx="94.75" cy="693.00" r="1.42" fill="#000"/><circle cx="92.00" cy="696.26" r="1.42" fill="#000"/><circle cx="87.88" cy="699.52" r="1.42" fill="#000"/><circle cx="90.62" cy="699.52" r="1.42" fill="#000"/><circle cx="93.38" cy="699.52" r="1.42" fill="#000"/><circle cx="96.12" cy="699.52" r="1.42" fill="#000"/><circle cx="86.50" cy="702.78" r="1.42" fill="#000"/><circle cx="89.25" cy="702.78" r="1.42" fill="#000"/><circle cx="92.00" cy="702.78" r="1.42" fill="#000"/><circle cx="94.75" cy="702.78" r="1.42" fill="#000"/><circle cx="97.50" cy="702.78" r="1.42" fill="#000"/><circle cx="81.00" cy="706.04" r="1.42" fill="#000"/><circle cx="83.75" cy="706.04" r="1.42" fill="#000"/><circle cx="86.50" cy="706.04" r="1.42" fill="#000"/><circle cx="89.25" cy="706.04" r="1.42" fill="#000"/><circle cx="92.00" cy="706.04" r="1.42" fill="#000"/><circle cx="94.75" cy="706.04" r="1.42" fill="#000"/><circle cx="97.50" cy="706.04" r="1.42" fill="#000"/><circle cx="100.25" cy="706.04" r="1.42" fill="#000"/><circle cx="103.00" cy="706.04" r="1.42" fill="#000"/><circle cx="86.50" cy="709.30" r="1.42" fill="#000"/><circle cx="89.25" cy="709.30" r="1.42" fill="#000"/><circle cx="92.00" cy="709.30" r="1.42" fill="#000"/><circle cx="94.75" cy="709.30" r="1.42" fill="#000"/><circle cx="97.50" cy="709.30" r="1.42" fill="#000"/><circle cx="85.12" cy="712.56" r="1.42" fill="#000"/><circle cx="87.88" cy="712.56" r="1.42" fill="#000"/><circle cx="90.62" cy="712.56" r="1.42" fill="#000"/><circle cx="93.38" cy="712.56" r="1.42" fill="#000"/><circle cx="96.12" cy="712.56" r="1.42" fill="#000"/><circle cx="98.88" cy="712.56" r="1.42" fill="#000"/><circle cx="89.25" cy="715.82" r="1.42" fill="#000"/><circle cx="92.00" cy="715.82" r="1.42" fill="#000"/><circle cx="94.75" cy="715.82" r="1.42" fill="#000"/><circle cx="85.12" cy="719.08" r="1.42" fill="#000"/><circle cx="87.88" cy="719.08" r="1.42" fill="#000"/><circle cx="90.62" cy="719.08" r="1.42" fill="#000"/><circle cx="93.38" cy="719.08" r="1.42" fill="#000"/><circle cx="96.12" cy="719.08" r="1.42" fill="#000"/><circle cx="98.88" cy="719.08" r="1.42" fill="#000"/><circle cx="85.12" cy="722.34" r="1.42" fill="#000"/><circle cx="87.88" cy="722.34" r="1.42" fill="#000"/><circle cx="90.62" cy="722.34" r="1.42" fill="#000"/><circle cx="93.38" cy="722.34" r="1.42" fill="#000"/><circle cx="96.12" cy="722.34" r="1.42" fill="#000"/><circle cx="98.88" cy="722.34" r="1.42" fill="#000"/><circle cx="90.62" cy="725.60" r="1.42" fill="#000"/><circle cx="93.38" cy="725.60" r="1.42" fill="#000"/><circle cx="90.62" cy="728.86" r="1.42" fill="#000"/><circle cx="93.38" cy="728.86" r="1.42" fill="#000"/><circle cx="90.62" cy="732.12" r="1.42" fill="#000"/><circle cx="93.38" cy="732.12" r="1.42" fill="#000"/><circle cx="89.25" cy="735.38" r="1.42" fill="#000"/><circle cx="92.00" cy="735.38" r="1.42" fill="#000"/><circle cx="94.75" cy="735.38" r="1.42" fill="#000"/><circle cx="89.25" cy="738.64" r="1.42" fill="#000"/><circle cx="92.00" cy="738.64" r="1.42" fill="#000"/><circle cx="94.75" cy="738.64" r="1.42" fill="#000"/><circle cx="89.25" cy="741.90" r="1.42" fill="#000"/><circle cx="92.00" cy="741.90" r="1.42" fill="#000"/><circle cx="94.75" cy="741.90" r="1.42" fill="#000"/><circle cx="90.62" cy="745.16" r="1.42" fill="#000"/><circle cx="93.38" cy="745.16" r="1.42" fill="#000"/><circle cx="90.62" cy="748.42" r="1.42" fill="#000"/><circle cx="93.38" cy="748.42" r="1.42" fill="#000"/><circle cx="90.62" cy="751.68" r="1.42" fill="#000"/><circle cx="93.38" cy="751.68" r="1.42" fill="#000"/><circle cx="92.00" cy="754.94" r="1.42" fill="#000"/><circle cx="92.00" cy="758.20" r="1.42" fill="#000"/><circle cx="92.00" cy="761.46" r="1.42" fill="#000"/><circle cx="92.00" cy="764.72" r="1.42" fill="#000"/><circle cx="90.62" cy="767.98" r="1.42" fill="#000"/><circle cx="93.38" cy="767.98" r="1.42" fill="#000"/><circle cx="129.30" cy="728.86" r="1.38" fill="#000"/><circle cx="129.30" cy="738.64" r="1.38" fill="#000"/><circle cx="126.85" cy="741.90" r="1.38" fill="#000"/><circle cx="129.30" cy="741.90" r="1.38" fill="#000"/><circle cx="131.75" cy="741.90" r="1.38" fill="#000"/><circle cx="129.30" cy="748.42" r="1.38" fill="#000"/><circle cx="128.08" cy="751.68" r="1.38" fill="#000"/><circle cx="130.53" cy="751.68" r="1.38" fill="#000"/><circle cx="123.18" cy="754.94" r="1.38" fill="#000"/><circle cx="125.63" cy="754.94" r="1.38" fill="#000"/><circle cx="128.08" cy="754.94" r="1.38" fill="#000"/><circle cx="130.53" cy="754.94" r="1.38" fill="#000"/><circle cx="132.98" cy="754.94" r="1.38" fill="#000"/><circle cx="135.43" cy="754.94" r="1.38" fill="#000"/><circle cx="124.40" cy="758.20" r="1.38" fill="#000"/><circle cx="126.85" cy="758.20" r="1.38" fill="#000"/><circle cx="129.30" cy="758.20" r="1.38" fill="#000"/><circle cx="131.75" cy="758.20" r="1.38" fill="#000"/><circle cx="134.20" cy="758.20" r="1.38" fill="#000"/><circle cx="124.40" cy="761.46" r="1.38" fill="#000"/><circle cx="126.85" cy="761.46" r="1.38" fill="#000"/><circle cx="129.30" cy="761.46" r="1.38" fill="#000"/><circle cx="131.75" cy="761.46" r="1.38" fill="#000"/><circle cx="134.20" cy="761.46" r="1.38" fill="#000"/><circle cx="121.95" cy="764.72" r="1.38" fill="#000"/><circle cx="124.40" cy="764.72" r="1.38" fill="#000"/><circle cx="126.85" cy="764.72" r="1.38" fill="#000"/><circle cx="129.30" cy="764.72" r="1.38" fill="#000"/><circle cx="131.75" cy="764.72" r="1.38" fill="#000"/><circle cx="134.20" cy="764.72" r="1.38" fill="#000"/><circle cx="136.65" cy="764.72" r="1.38" fill="#000"/><circle cx="118.28" cy="767.98" r="1.38" fill="#000"/><circle cx="120.73" cy="767.98" r="1.38" fill="#000"/><circle cx="123.18" cy="767.98" r="1.38" fill="#000"/><circle cx="125.63" cy="767.98" r="1.38" fill="#000"/><circle cx="128.08" cy="767.98" r="1.38" fill="#000"/><circle cx="130.53" cy="767.98" r="1.38" fill="#000"/><circle cx="132.98" cy="767.98" r="1.38" fill="#000"/><circle cx="135.43" cy="767.98" r="1.38" fill="#000"/><circle cx="137.88" cy="767.98" r="1.38" fill="#000"/><circle cx="140.33" cy="767.98" r="1.38" fill="#000"/><circle cx="126.85" cy="771.24" r="1.38" fill="#000"/><circle cx="129.30" cy="771.24" r="1.38" fill="#000"/><circle cx="131.75" cy="771.24" r="1.38" fill="#000"/><circle cx="123.18" cy="774.50" r="1.38" fill="#000"/><circle cx="125.63" cy="774.50" r="1.38" fill="#000"/><circle cx="128.08" cy="774.50" r="1.38" fill="#000"/><circle cx="130.53" cy="774.50" r="1.38" fill="#000"/><circle cx="132.98" cy="774.50" r="1.38" fill="#000"/><circle cx="135.43" cy="774.50" r="1.38" fill="#000"/><line x1="80.30" y1="712.56" x2="104.50" y2="712.56" stroke="#000" stroke-width="1.3" /><line x1="115.40" y1="764.72" x2="142.00" y2="764.72" stroke="#000" stroke-width="1.3" /><g transform="translate(39.70,709.50) rotate(-90) scale(1.0,1)"><text x="0" y="0" font-size="10.4" text-anchor="middle" font-weight="bold" class="b" fill="#111" dominant-baseline="central">SDQ total difficulties score</text></g><text x="92.00" y="791.00" font-size="9.8" text-anchor="middle" font-weight="bold" class="b" fill="#000" >NDD</text><text x="126.40" y="791.00" font-size="9.8" text-anchor="middle" font-weight="bold" class="b" fill="#000" >controls</text><text x="264.00" y="613.50" font-size="12.3" text-anchor="middle" class="r" fill="#111" >Impact</text><line x1="224.50" y1="644.00" x2="224.50" y2="775.60" stroke="#000" stroke-width="1.4" /><line x1="218.70" y1="774.90" x2="224.50" y2="774.90" stroke="#000" stroke-width="1.2" /><text x="217.50" y="778.60" font-size="10.2" text-anchor="end" font-weight="bold" class="b" fill="#000" >0</text><line x1="218.70" y1="731.50" x2="224.50" y2="731.50" stroke="#000" stroke-width="1.2" /><text x="217.50" y="735.20" font-size="10.2" text-anchor="end" font-weight="bold" class="b" fill="#000" >5</text><line x1="218.70" y1="688.10" x2="224.50" y2="688.10" stroke="#000" stroke-width="1.2" /><text x="217.50" y="691.80" font-size="10.2" text-anchor="end" font-weight="bold" class="b" fill="#000" >10</text><line x1="218.70" y1="644.70" x2="224.50" y2="644.70" stroke="#000" stroke-width="1.2" /><text x="217.50" y="648.40" font-size="10.2" text-anchor="end" font-weight="bold" class="b" fill="#000" >15</text><line x1="224.50" y1="774.90" x2="312.60" y2="774.90" stroke="#000" stroke-width="1.4" /><line x1="249.70" y1="774.90" x2="249.70" y2="780.10" stroke="#000" stroke-width="1.4" /><line x1="287.70" y1="774.90" x2="287.70" y2="780.10" stroke="#000" stroke-width="1.4" /><path d="M249.7,683.1 L249.7,675.0 L287.7,675.0 L287.7,761.0" fill="none" stroke="#000" stroke-width="1.3"/><text x="268.70" y="668.40" font-size="10.4" text-anchor="middle" class="r" fill="#111" >&lt;0.0001</text><line x1="224.50" y1="757.54" x2="312.60" y2="757.54" stroke="#000" stroke-width="1.5" stroke-dasharray="6,3"/><line x1="224.50" y1="766.22" x2="312.60" y2="766.22" stroke="#000" stroke-width="1.0" stroke-dasharray="1.2,1.6"/><rect x="238.50" y="686.50" width="22.90" height="3.2" rx="1.6" fill="#000"/><rect x="247.40" y="695.18" width="5.10" height="3.2" rx="1.6" fill="#000"/><rect x="246.20" y="703.86" width="8.20" height="3.2" rx="1.6" fill="#000"/><rect x="246.70" y="712.54" width="7.70" height="3.2" rx="1.6" fill="#000"/><rect x="241.30" y="721.22" width="17.10" height="3.2" rx="1.6" fill="#000"/><rect x="243.70" y="729.90" width="12.30" height="3.2" rx="1.6" fill="#000"/><rect x="241.50" y="738.58" width="17.00" height="3.2" rx="1.6" fill="#000"/><rect x="243.70" y="747.26" width="12.30" height="3.2" rx="1.6" fill="#000"/><rect x="245.50" y="755.94" width="8.90" height="3.2" rx="1.6" fill="#000"/><rect x="242.00" y="764.62" width="15.20" height="3.2" rx="1.6" fill="#000"/><rect x="238.50" y="773.30" width="23.40" height="3.2" rx="1.6" fill="#000"/><rect x="274.8" y="773.30" width="24.6" height="3.2" rx="1.6" fill="#000"/><circle cx="287.7" cy="766.22" r="1.3" fill="#000"/><line x1="238.00" y1="740.18" x2="262.40" y2="740.18" stroke="#000" stroke-width="1.3" /><g transform="translate(197.50,710.00) rotate(-90) scale(1.0,1)"><text x="0" y="0" font-size="10.4" text-anchor="middle" font-weight="bold" class="b" fill="#111" dominant-baseline="central">SDQ impact score</text></g><text x="250.50" y="791.00" font-size="9.8" text-anchor="middle" font-weight="bold" class="b" fill="#000" >NDD</text><text x="285.00" y="791.00" font-size="9.8" text-anchor="middle" font-weight="bold" class="b" fill="#000" >controls</text><g transform="translate(363.6,615.1) scale(0.82,1)"><text x="0" y="0" font-size="16.7" font-weight="bold" fill="#000">E</text></g><rect x="407.90" y="648.71" width="11.70" height="132.19" rx="0" fill="#fdd47c" stroke="none" stroke-width="1" /><rect x="424.80" y="774.91" width="11.90" height="5.99" rx="0" fill="#22b3d1" stroke="none" stroke-width="1" /><rect x="454.00" y="673.39" width="11.70" height="107.51" rx="0" fill="#fdd47c" stroke="none" stroke-width="1" /><rect x="499.90" y="735.07" width="11.70" height="45.82" rx="0" fill="#fdd47c" stroke="none" stroke-width="1" /><rect x="516.80" y="778.26" width="11.90" height="2.64" rx="0" fill="#22b3d1" stroke="none" stroke-width="1" /><rect x="545.90" y="706.88" width="11.70" height="74.02" rx="0" fill="#fdd47c" stroke="none" stroke-width="1" /><rect x="591.80" y="705.11" width="11.70" height="75.79" rx="0" fill="#fdd47c" stroke="none" stroke-width="1" /><rect x="608.70" y="778.26" width="11.90" height="2.64" rx="0" fill="#22b3d1" stroke="none" stroke-width="1" /><rect x="637.90" y="719.21" width="11.70" height="61.69" rx="0" fill="#fdd47c" stroke="none" stroke-width="1" /><line x1="402.00" y1="639.30" x2="402.00" y2="781.50" stroke="#000" stroke-width="1.4" /><line x1="397.50" y1="780.90" x2="402.00" y2="780.90" stroke="#000" stroke-width="1.2" /><g transform="translate(396.20,784.20) scale(0.8,1)"><text x="0" y="0" font-size="10" font-weight="bold" class="b" text-anchor="end" fill="#000">0</text></g><line x1="397.50" y1="745.65" x2="402.00" y2="745.65" stroke="#000" stroke-width="1.2" /><g transform="translate(396.20,748.95) scale(0.8,1)"><text x="0" y="0" font-size="10" font-weight="bold" class="b" text-anchor="end" fill="#000">20</text></g><line x1="397.50" y1="710.40" x2="402.00" y2="710.40" stroke="#000" stroke-width="1.2" /><g transform="translate(396.20,713.70) scale(0.8,1)"><text x="0" y="0" font-size="10" font-weight="bold" class="b" text-anchor="end" fill="#000">40</text></g><line x1="397.50" y1="675.15" x2="402.00" y2="675.15" stroke="#000" stroke-width="1.2" /><g transform="translate(396.20,678.45) scale(0.8,1)"><text x="0" y="0" font-size="10" font-weight="bold" class="b" text-anchor="end" fill="#000">60</text></g><line x1="397.50" y1="639.90" x2="402.00" y2="639.90" stroke="#000" stroke-width="1.2" /><g transform="translate(396.20,643.20) scale(0.8,1)"><text x="0" y="0" font-size="10" font-weight="bold" class="b" text-anchor="end" fill="#000">80</text></g><line x1="402.00" y1="780.90" x2="671.80" y2="780.90" stroke="#000" stroke-width="1.4" /><line x1="422.00" y1="780.90" x2="422.00" y2="785.10" stroke="#000" stroke-width="1.2" /><line x1="468.10" y1="780.90" x2="468.10" y2="785.10" stroke="#000" stroke-width="1.2" /><line x1="514.00" y1="780.90" x2="514.00" y2="785.10" stroke="#000" stroke-width="1.2" /><line x1="560.00" y1="780.90" x2="560.00" y2="785.10" stroke="#000" stroke-width="1.2" /><line x1="605.90" y1="780.90" x2="605.90" y2="785.10" stroke="#000" stroke-width="1.2" /><line x1="652.00" y1="780.90" x2="652.00" y2="785.10" stroke="#000" stroke-width="1.2" /><rect x="584.60" y="648.20" width="26.60" height="5.70" rx="0" fill="#fdd47c" stroke="none" stroke-width="1" /><rect x="584.60" y="666.30" width="26.60" height="5.70" rx="0" fill="#22b3d1" stroke="none" stroke-width="1" /><text x="626.00" y="655.40" font-size="13.0" text-anchor="start" class="r" fill="#111" >NDD</text><text x="626.00" y="674.20" font-size="13.0" text-anchor="start" class="r" fill="#111" >Controls</text><g transform="translate(372.0,714.7) rotate(-90) scale(0.86,1)"><text x="0" y="0" font-size="12.2" font-weight="bold" class="b" text-anchor="middle" dominant-baseline="central" fill="#000">Percentage of children (%)</text></g><g transform="translate(423.20,792.50) rotate(-45) scale(0.86,1)"><text x="0" y="4" font-size="11.6" font-weight="bold" class="b" text-anchor="end" fill="#000">Any skills</text></g><g transform="translate(469.30,792.50) rotate(-45) scale(0.86,1)"><text x="0" y="4" font-size="11.6" font-weight="bold" class="b" text-anchor="end" fill="#000">Learning ability</text></g><g transform="translate(515.20,792.50) rotate(-45) scale(0.86,1)"><text x="0" y="4" font-size="11.6" font-weight="bold" class="b" text-anchor="end" fill="#000">Language</text></g><g transform="translate(561.20,792.50) rotate(-45) scale(0.86,1)"><text x="0" y="4" font-size="11.6" font-weight="bold" class="b" text-anchor="end" fill="#000">Social skills</text></g><g transform="translate(607.10,792.50) rotate(-45) scale(0.86,1)"><text x="0" y="4" font-size="11.6" font-weight="bold" class="b" text-anchor="end" fill="#000">Fine motor skills</text></g><g transform="translate(653.20,792.50) rotate(-45) scale(0.86,1)"><text x="0" y="4" font-size="11.6" font-weight="bold" class="b" text-anchor="end" fill="#000">Gross motor skills</text></g>
</svg></body></html>
